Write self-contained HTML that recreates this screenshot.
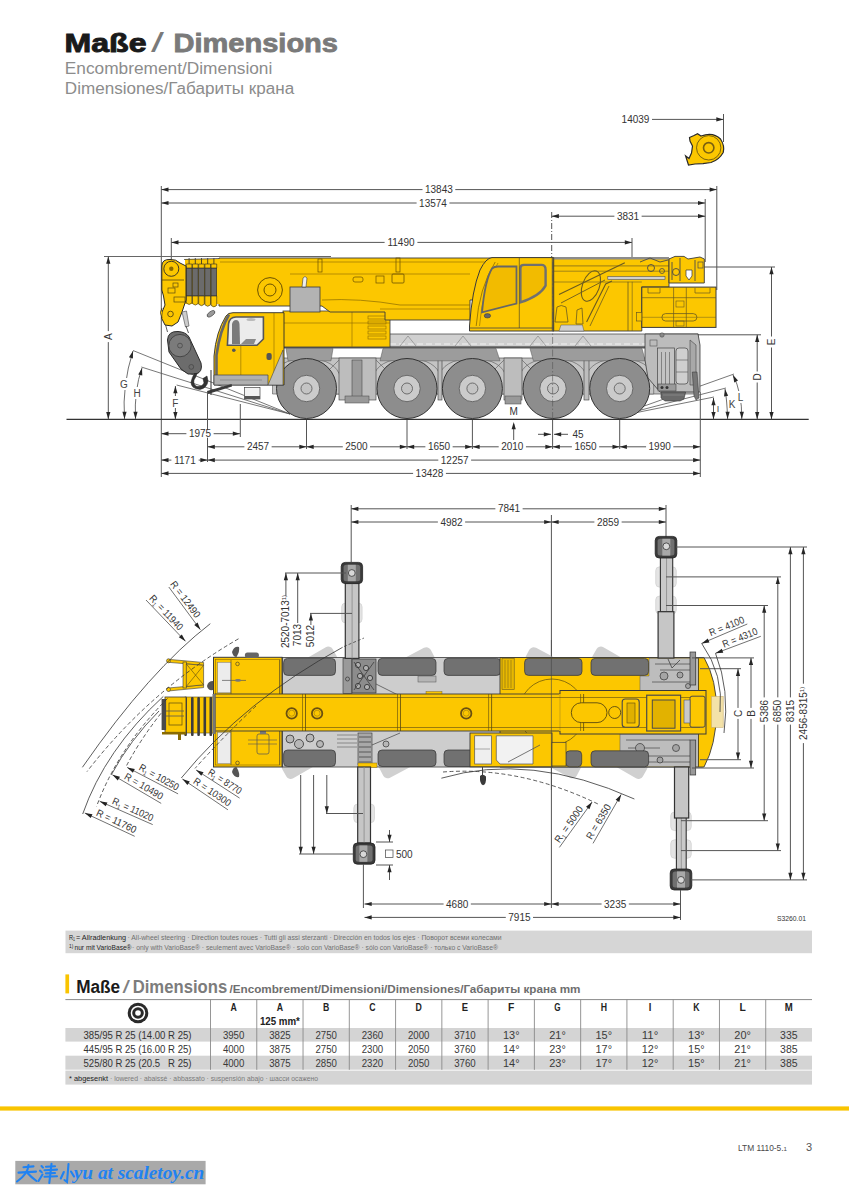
<!DOCTYPE html>
<html><head><meta charset="utf-8"><title>Dimensions</title>
<style>
html,body{margin:0;padding:0;background:#fff;}
svg{display:block;}
text{font-family:"Liberation Sans",sans-serif;}
</style></head><body>
<svg width="849" height="1200" viewBox="0 0 849 1200">
<rect width="849" height="1200" fill="#fff"/>
<text x="64.5" y="52" font-size="25.5" font-weight="bold" fill="#1a1a1a" stroke="#1a1a1a" stroke-width="0.9" textLength="82" lengthAdjust="spacingAndGlyphs">Maße</text>
<text x="151" y="52" font-size="27" fill="#7a7a7a" textLength="13" lengthAdjust="spacingAndGlyphs">/</text>
<text x="173.5" y="52" font-size="25.5" font-weight="bold" fill="#7a7a7a" stroke="#7a7a7a" stroke-width="0.8" textLength="164.5" lengthAdjust="spacingAndGlyphs">Dimensions</text>
<text x="64.8" y="73.8" font-size="15.6" fill="#8c8c8c" textLength="207.5" lengthAdjust="spacingAndGlyphs">Encombrement/Dimensioni</text>
<text x="64.8" y="94.2" font-size="15.6" fill="#8c8c8c" textLength="229.5" lengthAdjust="spacingAndGlyphs">Dimensiones/Габариты крана</text>
<line x1="161.3" y1="186" x2="161.3" y2="477" stroke="#555" stroke-width="1"/>
<line x1="171.3" y1="238" x2="171.3" y2="262" stroke="#555" stroke-width="1"/>
<line x1="705.2" y1="199" x2="705.2" y2="262" stroke="#555" stroke-width="1"/>
<line x1="716.8" y1="186" x2="716.8" y2="290" stroke="#555" stroke-width="1"/>
<line x1="632" y1="238" x2="632" y2="258" stroke="#555" stroke-width="1"/>
<line x1="551.7" y1="212" x2="551.7" y2="262" stroke="#555" stroke-width="1" stroke-dasharray="6,2,1,2"/>
<line x1="161.3" y1="189.6" x2="716.8" y2="189.6" stroke="#555" stroke-width="1"/><path d="M161.30,189.60L168.50,187.50L168.50,191.70Z" fill="#262626"/><path d="M716.80,189.60L709.60,191.70L709.60,187.50Z" fill="#262626"/><rect x="422.50" y="185.6" width="32.80" height="8" fill="#fff"/><text x="438.9" y="193.2" font-size="10" text-anchor="middle" fill="#333">13843</text>
<line x1="161.3" y1="203.0" x2="705.2" y2="203.0" stroke="#555" stroke-width="1"/><path d="M161.30,203.00L168.50,200.90L168.50,205.10Z" fill="#262626"/><path d="M705.20,203.00L698.00,205.10L698.00,200.90Z" fill="#262626"/><rect x="416.60" y="199.0" width="32.80" height="8" fill="#fff"/><text x="433.0" y="206.6" font-size="10" text-anchor="middle" fill="#333">13574</text>
<line x1="551.7" y1="216.2" x2="705.2" y2="216.2" stroke="#555" stroke-width="1"/><path d="M551.70,216.20L558.90,214.10L558.90,218.30Z" fill="#262626"/><path d="M705.20,216.20L698.00,218.30L698.00,214.10Z" fill="#262626"/><rect x="614.38" y="212.2" width="27.24" height="8" fill="#fff"/><text x="628.0" y="219.79999999999998" font-size="10" text-anchor="middle" fill="#333">3831</text>
<line x1="171.3" y1="242.4" x2="632.0" y2="242.4" stroke="#555" stroke-width="1"/><path d="M171.30,242.40L178.50,240.30L178.50,244.50Z" fill="#262626"/><path d="M632.00,242.40L624.80,244.50L624.80,240.30Z" fill="#262626"/><rect x="384.60" y="238.4" width="32.80" height="8" fill="#fff"/><text x="401.0" y="246.0" font-size="10" text-anchor="middle" fill="#333">11490</text>
<line x1="723.5" y1="114" x2="723.5" y2="142" stroke="#555" stroke-width="1"/>
<line x1="652" y1="119.4" x2="723.5" y2="119.4" stroke="#555" stroke-width="1"/><path d="M723.50,119.40L716.30,121.50L716.30,117.30Z" fill="#262626"/>
<text x="635.5" y="123" font-size="10" text-anchor="middle" fill="#333">14039</text>
<path d="M689.5,137.5 L694,135.5 L697.5,133.8 L701,136 Q713,131.5 720.5,139 Q725,146 723.2,152.5 Q719,160 711,162.5 L703,163.6 L695,164 L688.5,165 L685.6,156 L689,158.6 L691.5,153 L692.5,146 L690,141 Z" fill="#fcc700" stroke="#2a2a2a" stroke-width="1.2"/>
<circle cx="708.7" cy="147.8" r="12.2" fill="#fcc700" stroke="#5a4a10" stroke-width="0.8"/>
<circle cx="708.7" cy="147.8" r="5.2" fill="#fcc700" stroke="#7a6010" stroke-width="1.6"/>
<line x1="104" y1="256.5" x2="331" y2="256.5" stroke="#666" stroke-width="1"/>
<line x1="704" y1="267" x2="775" y2="267" stroke="#555" stroke-width="1"/>
<line x1="691" y1="334.8" x2="761" y2="334.8" stroke="#555" stroke-width="1"/>
<line x1="66.5" y1="419.4" x2="808.7" y2="419.4" stroke="#333" stroke-width="1.4"/>
<line x1="133" y1="350.5" x2="290" y2="414" stroke="#555" stroke-width="0.8"/>
<line x1="141.3" y1="367" x2="290" y2="414" stroke="#555" stroke-width="0.8"/>
<line x1="176.6" y1="385" x2="290" y2="414" stroke="#555" stroke-width="0.8"/>
<line x1="612" y1="417.5" x2="734" y2="374" stroke="#555" stroke-width="0.8"/>
<line x1="612" y1="417.5" x2="726" y2="388" stroke="#555" stroke-width="0.8"/>
<line x1="612" y1="417.5" x2="714" y2="397" stroke="#555" stroke-width="0.8"/>
<path d="M283,358 L698,358 L698,394 L283,394 Z" fill="#c4c4c4" stroke="#3a3a3a" stroke-width="0.6"/>
<path d="M272.5,394 L272.5,378 Q276.5,359 306.5,358.5 Q336.5,359 340.5,378 L340.5,394 Z" fill="#c6c6c6" stroke="#555" stroke-width="0.6"/>
<path d="M373.0,394 L373.0,378 Q377.0,359 407.0,358.5 Q437.0,359 441.0,378 L441.0,394 Z" fill="#c6c6c6" stroke="#555" stroke-width="0.6"/>
<path d="M438.4,394 L438.4,378 Q442.4,359 472.4,358.5 Q502.4,359 506.4,378 L506.4,394 Z" fill="#c6c6c6" stroke="#555" stroke-width="0.6"/>
<path d="M519.0,394 L519.0,378 Q523.0,359 553.0,358.5 Q583.0,359 587.0,378 L587.0,394 Z" fill="#c6c6c6" stroke="#555" stroke-width="0.6"/>
<path d="M585.7,394 L585.7,378 Q589.7,359 619.7,358.5 Q649.7,359 653.7,378 L653.7,394 Z" fill="#c6c6c6" stroke="#555" stroke-width="0.6"/>
<rect x="339" y="358" width="37" height="42" fill="#bdbdbd" stroke="#3a3a3a" stroke-width="0.6"/>
<rect x="438" y="358" width="4" height="42" fill="#bdbdbd" stroke="#3a3a3a" stroke-width="0.6"/>
<rect x="504" y="358" width="18" height="42" fill="#bdbdbd" stroke="#3a3a3a" stroke-width="0.6"/>
<rect x="584" y="358" width="5" height="42" fill="#bdbdbd" stroke="#3a3a3a" stroke-width="0.6"/>
<rect x="352" y="360" width="10" height="40" fill="#9a9a9a" stroke="#3a3a3a" stroke-width="0.5"/>
<path d="M376,360 L388,372 M339,360 L327,372 M522,360 L532,370 M504,360 L494,370" stroke="#666" stroke-width="0.7"/>
<rect x="283" y="334" width="415" height="13" fill="#d0d0d0" stroke="#3a3a3a" stroke-width="0.7"/>
<line x1="390" y1="344" x2="650" y2="344" stroke="#f2f2f2" stroke-width="1" stroke-dasharray="6,3"/>
<path d="M400,346 L408,336 L416,346" fill="none" stroke="#888" stroke-width="0.7"/>
<path d="M455,346 L463,336 L471,346" fill="none" stroke="#888" stroke-width="0.7"/>
<path d="M530,346 L538,336 L546,346" fill="none" stroke="#888" stroke-width="0.7"/>
<path d="M575,346 L583,336 L591,346" fill="none" stroke="#888" stroke-width="0.7"/>
<rect x="283" y="346.5" width="415" height="2" fill="#5a5a5a"/>
<path d="M286,348.5 L333,348.5 L331,360.8 L288,360.8 Z" fill="#9c9c9c" stroke="#555" stroke-width="0.5"/>
<path d="M383,348.5 L496,348.5 L500,360.8 L380,360.8 Z" fill="#9c9c9c" stroke="#555" stroke-width="0.5"/>
<path d="M530,348.5 L642,348.5 L645.3,360.8 L533.4,360.8 Z" fill="#9c9c9c" stroke="#555" stroke-width="0.5"/>
<path d="M645,334 L698,334 L700,345 L700,392 L660,392 L648,378 L645,360 Z" fill="#bcbcbc" stroke="#3a3a3a" stroke-width="0.8"/>
<rect x="657.6" y="348" width="16.8" height="40.8" fill="#c3c3c3" stroke="#444" stroke-width="0.7"/>
<line x1="661.5" y1="352" x2="661.5" y2="385" stroke="#555" stroke-width="0.6"/>
<line x1="665.5" y1="352" x2="665.5" y2="385" stroke="#555" stroke-width="0.6"/>
<line x1="669.5" y1="352" x2="669.5" y2="385" stroke="#555" stroke-width="0.6"/>
<rect x="676" y="348" width="12" height="36" rx="3" fill="#cfcfcf" stroke="#444" stroke-width="0.7"/>
<line x1="676" y1="360" x2="688" y2="360" stroke="#555" stroke-width="0.6"/>
<line x1="676" y1="372" x2="688" y2="372" stroke="#555" stroke-width="0.6"/>
<path d="M690,340 L696,345 L696,385 L690,385 Z" fill="#a8a8a8" stroke="#444" stroke-width="0.6"/>
<rect x="658" y="384" width="18" height="7" fill="#9a9a9a" stroke="#444" stroke-width="0.6"/>
<circle cx="662" cy="387.5" r="1.5" fill="#333"/><circle cx="667" cy="387.5" r="1.5" fill="#333"/>
<rect x="650" y="340" width="7" height="6" fill="none" stroke="#555" stroke-width="0.6"/>
<circle cx="662" cy="335" r="2.2" fill="#888" stroke="#444" stroke-width="0.5"/>
<path d="M661,392 L685.6,392 L684,399 L680,401 L665,401 L661,398 Z" fill="#6a6a6a" stroke="#3a3a3a" stroke-width="0.6"/>
<line x1="663" y1="395" x2="684" y2="395" stroke="#999" stroke-width="0.6"/>
<path d="M692.3,372 L697,372 L699,398 L696,400 L694,396 Z" fill="#777" stroke="#333" stroke-width="0.5"/>
<rect x="283" y="386" width="14" height="12" fill="#aaa" stroke="#3a3a3a" stroke-width="0.6"/>
<circle cx="306.5" cy="388.5" r="30" fill="#8d8d8d" stroke="#333" stroke-width="1"/>
<circle cx="306.5" cy="388.5" r="13.2" fill="#cbcbcb" stroke="#555" stroke-width="0.8"/>
<circle cx="306.5" cy="388.5" r="5.5" fill="#c4c4c4" stroke="#555" stroke-width="0.8"/>
<circle cx="407.0" cy="388.5" r="30" fill="#8d8d8d" stroke="#333" stroke-width="1"/>
<circle cx="407.0" cy="388.5" r="13.2" fill="#cbcbcb" stroke="#555" stroke-width="0.8"/>
<circle cx="407.0" cy="388.5" r="5.5" fill="#c4c4c4" stroke="#555" stroke-width="0.8"/>
<circle cx="472.4" cy="388.5" r="30" fill="#8d8d8d" stroke="#333" stroke-width="1"/>
<circle cx="472.4" cy="388.5" r="13.2" fill="#cbcbcb" stroke="#555" stroke-width="0.8"/>
<circle cx="472.4" cy="388.5" r="5.5" fill="#c4c4c4" stroke="#555" stroke-width="0.8"/>
<circle cx="553.0" cy="388.5" r="30" fill="#8d8d8d" stroke="#333" stroke-width="1"/>
<circle cx="553.0" cy="388.5" r="13.2" fill="#cbcbcb" stroke="#555" stroke-width="0.8"/>
<circle cx="553.0" cy="388.5" r="5.5" fill="#c4c4c4" stroke="#555" stroke-width="0.8"/>
<circle cx="619.7" cy="388.5" r="30" fill="#8d8d8d" stroke="#333" stroke-width="1"/>
<circle cx="619.7" cy="388.5" r="13.2" fill="#cbcbcb" stroke="#555" stroke-width="0.8"/>
<circle cx="619.7" cy="388.5" r="5.5" fill="#c4c4c4" stroke="#555" stroke-width="0.8"/>
<rect x="505" y="396" width="16" height="8" fill="#999" stroke="#444" stroke-width="0.5"/>
<rect x="345" y="396" width="24" height="7" fill="#999" stroke="#444" stroke-width="0.5"/>
<rect x="283" y="311" width="107" height="36" fill="#fcc700" stroke="#3a3a3a" stroke-width="0.8"/>
<line x1="283" y1="323" x2="390" y2="323" stroke="#8a6a00" stroke-width="0.6"/>
<line x1="352" y1="311" x2="352" y2="347" stroke="#8a6a00" stroke-width="0.6"/>
<rect x="368" y="316" width="18" height="3" fill="none" stroke="#8a6a00" stroke-width="0.6"/>
<rect x="368" y="321" width="18" height="3" fill="none" stroke="#8a6a00" stroke-width="0.6"/>
<rect x="368" y="326" width="18" height="3" fill="none" stroke="#8a6a00" stroke-width="0.6"/>
<rect x="368" y="331" width="18" height="3" fill="none" stroke="#8a6a00" stroke-width="0.6"/>
<rect x="368" y="336" width="18" height="3" fill="none" stroke="#8a6a00" stroke-width="0.6"/>
<path d="M219,258 L640,258 L640,300 L470,300 L470,320 L385,320 L385,312 L330,312 L322,306 L219,306 Z" fill="#fcc700" stroke="#3a3a3a" stroke-width="0.9"/>
<line x1="219" y1="262" x2="640" y2="262" stroke="#8a6a00" stroke-width="0.6"/>
<line x1="290" y1="274" x2="470" y2="274" stroke="#8a6a00" stroke-width="0.6"/>
<path d="M322,300 Q360,298 400,305 L470,305" fill="none" stroke="#8a6a00" stroke-width="0.7"/>
<line x1="380" y1="309" x2="470" y2="309" stroke="#8a6a00" stroke-width="0.6"/>
<circle cx="270" cy="290" r="12.4" fill="#fcc700" stroke="#6a5000" stroke-width="1"/>
<circle cx="270" cy="290" r="6" fill="#fcc700" stroke="#6a5000" stroke-width="1"/>
<rect x="353" y="277" width="10" height="5" rx="2" fill="none" stroke="#6a5000" stroke-width="0.7"/>
<rect x="376" y="276" width="8" height="7" fill="none" stroke="#6a5000" stroke-width="0.7"/>
<rect x="392" y="274" width="12" height="9" rx="1" fill="none" stroke="#6a5000" stroke-width="0.8"/>
<rect x="318" y="259" width="4" height="13" fill="none" stroke="#6a5000" stroke-width="0.7"/>
<rect x="396" y="258" width="4" height="14" fill="none" stroke="#6a5000" stroke-width="0.7"/>
<rect x="185" y="259" width="35" height="45" fill="#fcc700"/>
<rect x="186.3" y="268" width="5.6" height="28" fill="#6b6b6b" stroke="#2a2a2a" stroke-width="0.6"/>
<path d="M186.3,264 L191.9,264 L191.9,268 L186.3,268 Z" fill="#fcc700" stroke="#2a2a2a" stroke-width="0.6"/>
<path d="M186.3,296 L191.9,296 L191.9,303.0 Q189.10000000000002,306.0 186.3,303.0 Z" fill="#fcc700" stroke="#2a2a2a" stroke-width="0.6"/>
<line x1="189.10000000000002" y1="258" x2="189.10000000000002" y2="264" stroke="#2a2a2a" stroke-width="0.8"/>
<rect x="192.5" y="268" width="5.6" height="28" fill="#6b6b6b" stroke="#2a2a2a" stroke-width="0.6"/>
<path d="M192.5,264 L198.1,264 L198.1,268 L192.5,268 Z" fill="#fcc700" stroke="#2a2a2a" stroke-width="0.6"/>
<path d="M192.5,296 L198.1,296 L198.1,303.6 Q195.3,306.6 192.5,303.6 Z" fill="#fcc700" stroke="#2a2a2a" stroke-width="0.6"/>
<line x1="195.3" y1="258" x2="195.3" y2="264" stroke="#2a2a2a" stroke-width="0.8"/>
<rect x="198.7" y="268" width="5.6" height="28" fill="#6b6b6b" stroke="#2a2a2a" stroke-width="0.6"/>
<path d="M198.7,264 L204.29999999999998,264 L204.29999999999998,268 L198.7,268 Z" fill="#fcc700" stroke="#2a2a2a" stroke-width="0.6"/>
<path d="M198.7,296 L204.29999999999998,296 L204.29999999999998,304.2 Q201.5,307.2 198.7,304.2 Z" fill="#fcc700" stroke="#2a2a2a" stroke-width="0.6"/>
<line x1="201.5" y1="258" x2="201.5" y2="264" stroke="#2a2a2a" stroke-width="0.8"/>
<rect x="204.9" y="268" width="5.6" height="28" fill="#6b6b6b" stroke="#2a2a2a" stroke-width="0.6"/>
<path d="M204.9,264 L210.5,264 L210.5,268 L204.9,268 Z" fill="#fcc700" stroke="#2a2a2a" stroke-width="0.6"/>
<path d="M204.9,296 L210.5,296 L210.5,304.8 Q207.70000000000002,307.8 204.9,304.8 Z" fill="#fcc700" stroke="#2a2a2a" stroke-width="0.6"/>
<line x1="207.70000000000002" y1="258" x2="207.70000000000002" y2="264" stroke="#2a2a2a" stroke-width="0.8"/>
<rect x="211.1" y="268" width="5.6" height="28" fill="#6b6b6b" stroke="#2a2a2a" stroke-width="0.6"/>
<path d="M211.1,264 L216.7,264 L216.7,268 L211.1,268 Z" fill="#fcc700" stroke="#2a2a2a" stroke-width="0.6"/>
<path d="M211.1,296 L216.7,296 L216.7,305.4 Q213.9,308.4 211.1,305.4 Z" fill="#fcc700" stroke="#2a2a2a" stroke-width="0.6"/>
<line x1="213.9" y1="258" x2="213.9" y2="264" stroke="#2a2a2a" stroke-width="0.8"/>
<line x1="184" y1="259.5" x2="219" y2="258.5" stroke="#444" stroke-width="0.8"/>
<path d="M161.8,266 Q162,259 170,259.5 Q176,259 180,263 L186,266 L186,300 L182,312 L178,322 L172,326 L165,325 L161.5,318 L162,312 L165,305 L163.5,296 L161.8,290 Z" fill="#fcc700" stroke="#2a2a2a" stroke-width="1"/>
<circle cx="171.3" cy="268.8" r="7.5" fill="#fcc700" stroke="#2a2a2a" stroke-width="0.9"/>
<circle cx="171.3" cy="268.8" r="2.2" fill="#8a6a00"/>
<line x1="162" y1="280" x2="184" y2="280" stroke="#5a4a10" stroke-width="0.8"/>
<rect x="173" y="283" width="5" height="4" fill="none" stroke="#5a4a10" stroke-width="0.7"/>
<rect x="168" y="288" width="7" height="5" fill="none" stroke="#5a4a10" stroke-width="0.7"/>
<rect x="174" y="297" width="11" height="5" fill="none" stroke="#5a4a10" stroke-width="0.7"/>
<circle cx="170.5" cy="314" r="2.8" fill="none" stroke="#5a4a10" stroke-width="0.9"/>
<path d="M162,308 Q159,312 162,318" fill="#fcc700" stroke="#2a2a2a" stroke-width="0.8"/>
<line x1="165.6" y1="325" x2="167.5" y2="332" stroke="#333" stroke-width="0.8"/>
<path d="M182,312 L186.5,311 L189,326 L185.5,327 Z" fill="#ccc" stroke="#444" stroke-width="0.6"/>
<line x1="186" y1="326" x2="188.5" y2="333" stroke="#333" stroke-width="0.8"/>
<ellipse cx="211" cy="313.8" rx="4.5" ry="2.2" transform="rotate(-35,211,313.8)" fill="#9a9a9a" stroke="#333" stroke-width="0.6"/>
<path d="M167.5,340 Q168,331 178,331.5 Q186,332 189,337 L195,350 L201,363 Q203,372 196,374 L188,374 Q180,370 176,362 L169,352 Z" fill="#6c6c6c" stroke="#2a2a2a" stroke-width="1"/>
<circle cx="180" cy="345.6" r="11.2" fill="#7b7b7b" stroke="#3a3a3a" stroke-width="0.8"/>
<circle cx="180" cy="345.6" r="2.4" fill="none" stroke="#444" stroke-width="0.7"/>
<circle cx="191.3" cy="366.9" r="2.4" fill="none" stroke="#444" stroke-width="0.7"/>
<path d="M194.5,373.5 L197,373.5 Q196,377 194,380 Q193,385 197,386.5 Q202,387 204,383 L203,378.5 L207,376 L208,381 Q207,388 200,389.5 Q191,389 191,382 Q192,377 194.5,373.5 Z" fill="#333" stroke="#1a1a1a" stroke-width="0.5"/>
<rect x="290" y="287" width="30" height="25" fill="#b3b3b3" stroke="#3a3a3a" stroke-width="0.8"/>
<path d="M302,287 L303,278 Q305,275 307,278 L306,287 Z" fill="#eee" stroke="#3a3a3a" stroke-width="0.6"/>
<path d="M214,385 L214,356 Q216,332 226,316 Q228,312.7 233,312.7 L284,312.7 L284,385 Z" fill="#fcc700" stroke="#2a2a2a" stroke-width="0.9"/>
<path d="M229,314.5 Q220,330 216.5,355 L216.5,376" fill="none" stroke="#666" stroke-width="2.6"/>
<path d="M227.4,345.2 L228.5,324 Q229.5,317 236,317 L263.4,317 L263.4,339 L257,345.2 Z" fill="#ececec" stroke="#555" stroke-width="1.6"/>
<path d="M232,344 L232,324 Q233,320 236,320 Q239,320 239.5,324 L240,344 Z" fill="#7a7a7a"/>
<path d="M241,344 L246,339 L256,339 L254,344 Z" fill="#8a8a8a"/>
<ellipse cx="251" cy="319.5" rx="4.5" ry="1.6" fill="#bbb"/>
<line x1="240.8" y1="345" x2="240.8" y2="376" stroke="#8a6a00" stroke-width="0.6"/>
<line x1="274" y1="313" x2="274" y2="376" stroke="#8a6a00" stroke-width="0.6"/>
<circle cx="233.8" cy="350.2" r="1.8" fill="#555"/>
<rect x="266.5" y="353" width="5.2" height="7" rx="2" fill="#555"/>
<path d="M214,375 L268,375 L268,385 L214,385 Z" fill="#b0b0b0" stroke="#444" stroke-width="0.7"/>
<line x1="220" y1="380" x2="262" y2="380" stroke="#777" stroke-width="0.6"/>
<path d="M268,385 L283,350 L283,385 Z" fill="#bdbdbd" stroke="#444" stroke-width="0.6"/>
<rect x="244.4" y="387.6" width="15.6" height="11.4" fill="#f2f2f2" stroke="#444" stroke-width="0.7"/>
<rect x="244.4" y="396" width="15.6" height="3" fill="#555"/>
<path d="M207,391 L231.6,384 L232,386.5 L208,394 Z" fill="#3a3a3a"/>
<line x1="211" y1="370" x2="211" y2="395" stroke="#333" stroke-width="1"/>
<path d="M553,258 L669,258 L669,287 L641.8,287 L641.8,331 L553,331 Z" fill="#fcc700" stroke="#3a3a3a" stroke-width="0.9"/>
<line x1="553" y1="265.9" x2="669" y2="265.9" stroke="#6a5a20" stroke-width="0.7"/>
<line x1="553" y1="271.2" x2="669" y2="271.2" stroke="#6a5a20" stroke-width="0.6"/>
<rect x="553" y="257" width="116" height="2.5" fill="#8c8c8c"/>
<path d="M559,294.5 L624.8,262.7" fill="none" stroke="#6a5a20" stroke-width="1.1"/>
<path d="M561,303 L605,280" fill="none" stroke="#6a5a20" stroke-width="0.9"/>
<path d="M586.6,322 L605.7,283.9 L612,281" fill="none" stroke="#6a5a20" stroke-width="1.1"/>
<path d="M590,326 L609,286" fill="none" stroke="#6a5a20" stroke-width="0.8"/>
<ellipse cx="590.9" cy="286" rx="8.5" ry="15.9" transform="rotate(20,590.9,286)" fill="none" stroke="#6a5a20" stroke-width="1.1"/>
<rect x="607.8" y="276.6" width="57.2" height="3" fill="#cfcfcf" stroke="#555" stroke-width="0.6"/>
<line x1="628" y1="281.8" x2="628" y2="331" stroke="#6a5a20" stroke-width="0.8"/>
<line x1="632.2" y1="281.8" x2="632.2" y2="331" stroke="#6a5a20" stroke-width="0.6"/>
<line x1="553" y1="282" x2="641.8" y2="282" stroke="#6a5a20" stroke-width="0.6"/>
<path d="M555,322 L557,307 Q561,304 566,307 L568,322 Z" fill="none" stroke="#6a5a20" stroke-width="0.8"/>
<path d="M576,324 L577,310 L582,308 L583,324 Z" fill="none" stroke="#6a5a20" stroke-width="0.8"/>
<path d="M561,325 L582.4,325 L584,331 L559,331 Z" fill="#cfcfcf" stroke="#555" stroke-width="0.5"/>
<path d="M469.5,331 L469.5,326 Q472,290 480,270 Q486,258 492,257.6 L553.7,257.6 L553.7,331 Z" fill="#fcc700" stroke="#3a3a3a" stroke-width="1"/>
<path d="M476.2,326 Q479,288 495.2,262" fill="none" stroke="#8a6a00" stroke-width="0.8"/>
<path d="M479.5,326 Q482,290 498,263" fill="none" stroke="#8a6a00" stroke-width="0.6"/>
<path d="M482,312.4 Q485,280 492,268.5 Q494,266.5 498,266.5 L516.5,266.5 L516.5,303.5 Z" fill="#f2bb00" stroke="#666" stroke-width="1.8"/>
<path d="M520.4,302.4 L520.4,268 Q520.4,264.9 524,264.9 L542,264.9 Q545.6,265 545.6,270 L545.6,285.6 Q540,296 520.4,302.4 Z" fill="#f2bb00" stroke="#707070" stroke-width="2.4"/>
<line x1="519.3" y1="258" x2="519.3" y2="328" stroke="#6a5a20" stroke-width="0.8"/>
<ellipse cx="487.4" cy="315.8" rx="3.2" ry="2.2" fill="#666" stroke="#333" stroke-width="0.5"/>
<line x1="469.5" y1="328" x2="553.7" y2="328" stroke="#444" stroke-width="0.8"/>
<line x1="552.3" y1="258" x2="552.3" y2="331" stroke="#444" stroke-width="0.9"/>
<rect x="641.8" y="287.1" width="74.2" height="40.3" fill="#fcc700" stroke="#3a3a3a" stroke-width="1"/>
<line x1="641.8" y1="297.7" x2="716" y2="297.7" stroke="#6a5a20" stroke-width="0.7"/>
<path d="M648,288 L648,293 L660,293 L660,288 M695,288 L695,293 L710,293 L710,288" fill="none" stroke="#6a5a20" stroke-width="0.7"/>
<line x1="673.6" y1="287.1" x2="673.6" y2="327.4" stroke="#6a5a20" stroke-width="0.7"/>
<line x1="686.3" y1="287.1" x2="686.3" y2="327.4" stroke="#6a5a20" stroke-width="0.7"/>
<rect x="661.9" y="313.6" width="35" height="7.4" rx="3.7" fill="none" stroke="#6a5a20" stroke-width="0.8"/>
<line x1="641.8" y1="317.3" x2="716" y2="317.3" stroke="#6a5a20" stroke-width="0.5"/>
<rect x="636.5" y="312.5" width="5.3" height="8.5" fill="#fcc700" stroke="#6a5a20" stroke-width="0.7"/>
<rect x="676" y="301" width="8" height="6" fill="none" stroke="#6a5a20" stroke-width="0.6"/>
<rect x="676" y="321" width="8" height="5" fill="none" stroke="#6a5a20" stroke-width="0.6"/>
<path d="M669,259 L675,256.4 L684,256.4 L688,259 L700,257 L704.3,259 L704.3,283 L669,283 Z" fill="#fcc700" stroke="#3a3a3a" stroke-width="0.9"/>
<path d="M672,262 L672,280 M680,258 L680,281 M695,260 L695,281" stroke="#4a4a4a" stroke-width="0.9"/>
<circle cx="676" cy="272" r="3.5" fill="none" stroke="#4a4a4a" stroke-width="0.9"/>
<path d="M686,270 L692,270 L692,276 L689,280 L686,276 Z" fill="#fff" stroke="#333" stroke-width="0.7"/>
<rect x="698" y="262" width="5" height="6" fill="none" stroke="#4a4a4a" stroke-width="0.7"/>
<path d="M640,262 L650,258 L660,262 L668,260" fill="none" stroke="#4a4a4a" stroke-width="0.9"/>
<circle cx="651" cy="268" r="3.5" fill="none" stroke="#4a4a4a" stroke-width="0.9"/>
<circle cx="662" cy="271" r="2.5" fill="none" stroke="#4a4a4a" stroke-width="0.8"/>
<line x1="552.6" y1="262" x2="552.6" y2="420" stroke="#555" stroke-width="0.6" stroke-dasharray="7,2,1.5,2"/>
<line x1="207.5" y1="391.5" x2="207.5" y2="462" stroke="#555" stroke-width="1"/>
<line x1="240.3" y1="404" x2="240.3" y2="437" stroke="#555" stroke-width="1"/>
<line x1="306.5" y1="420" x2="306.5" y2="449" stroke="#555" stroke-width="1"/>
<line x1="407" y1="420" x2="407" y2="449" stroke="#555" stroke-width="1"/>
<line x1="472.4" y1="420" x2="472.4" y2="449" stroke="#555" stroke-width="1"/>
<line x1="552.6" y1="420" x2="552.6" y2="449" stroke="#555" stroke-width="1"/>
<line x1="619.7" y1="420" x2="619.7" y2="449" stroke="#555" stroke-width="1"/>
<line x1="700.3" y1="392" x2="700.3" y2="477" stroke="#555" stroke-width="1"/>
<line x1="161.3" y1="433.7" x2="240" y2="433.7" stroke="#555" stroke-width="1"/><path d="M161.30,433.70L168.50,431.60L168.50,435.80Z" fill="#262626"/><path d="M240.00,433.70L232.80,435.80L232.80,431.60Z" fill="#262626"/><rect x="186.38" y="429.7" width="27.24" height="8" fill="#fff"/><text x="200.0" y="437.3" font-size="10" text-anchor="middle" fill="#333">1975</text>
<line x1="207.6" y1="446.8" x2="306.5" y2="446.8" stroke="#555" stroke-width="1"/><path d="M207.60,446.80L214.80,444.70L214.80,448.90Z" fill="#262626"/><path d="M306.50,446.80L299.30,448.90L299.30,444.70Z" fill="#262626"/><rect x="244.38" y="442.8" width="27.24" height="8" fill="#fff"/><text x="258.0" y="450.40000000000003" font-size="10" text-anchor="middle" fill="#333">2457</text>
<line x1="306.5" y1="446.8" x2="407" y2="446.8" stroke="#555" stroke-width="1"/><path d="M306.50,446.80L313.70,444.70L313.70,448.90Z" fill="#262626"/><path d="M407.00,446.80L399.80,448.90L399.80,444.70Z" fill="#262626"/><rect x="342.78" y="442.8" width="27.24" height="8" fill="#fff"/><text x="356.4" y="450.40000000000003" font-size="10" text-anchor="middle" fill="#333">2500</text>
<line x1="407" y1="446.8" x2="472.4" y2="446.8" stroke="#555" stroke-width="1"/><path d="M407.00,446.80L414.20,444.70L414.20,448.90Z" fill="#262626"/><path d="M472.40,446.80L465.20,448.90L465.20,444.70Z" fill="#262626"/><rect x="425.38" y="442.8" width="27.24" height="8" fill="#fff"/><text x="439.0" y="450.40000000000003" font-size="10" text-anchor="middle" fill="#333">1650</text>
<line x1="472.4" y1="446.8" x2="552.6" y2="446.8" stroke="#555" stroke-width="1"/><path d="M472.40,446.80L479.60,444.70L479.60,448.90Z" fill="#262626"/><path d="M552.60,446.80L545.40,448.90L545.40,444.70Z" fill="#262626"/><rect x="498.68" y="442.8" width="27.24" height="8" fill="#fff"/><text x="512.3" y="450.40000000000003" font-size="10" text-anchor="middle" fill="#333">2010</text>
<line x1="552.6" y1="446.8" x2="619.7" y2="446.8" stroke="#555" stroke-width="1"/><path d="M552.60,446.80L559.80,444.70L559.80,448.90Z" fill="#262626"/><path d="M619.70,446.80L612.50,448.90L612.50,444.70Z" fill="#262626"/><rect x="571.88" y="442.8" width="27.24" height="8" fill="#fff"/><text x="585.5" y="450.40000000000003" font-size="10" text-anchor="middle" fill="#333">1650</text>
<line x1="619.7" y1="446.8" x2="700.3" y2="446.8" stroke="#555" stroke-width="1"/><path d="M619.70,446.80L626.90,444.70L626.90,448.90Z" fill="#262626"/><path d="M700.30,446.80L693.10,448.90L693.10,444.70Z" fill="#262626"/><rect x="646.08" y="442.8" width="27.24" height="8" fill="#fff"/><text x="659.7" y="450.40000000000003" font-size="10" text-anchor="middle" fill="#333">1990</text>
<line x1="161.3" y1="460.1" x2="207.6" y2="460.1" stroke="#555" stroke-width="1"/><path d="M161.30,460.10L168.50,458.00L168.50,462.20Z" fill="#262626"/><path d="M207.60,460.10L200.40,462.20L200.40,458.00Z" fill="#262626"/><rect x="171.38" y="456.1" width="27.24" height="8" fill="#fff"/><text x="185.0" y="463.70000000000005" font-size="10" text-anchor="middle" fill="#333">1171</text>
<line x1="207.6" y1="460.1" x2="700.3" y2="460.1" stroke="#555" stroke-width="1"/><path d="M207.60,460.10L214.80,458.00L214.80,462.20Z" fill="#262626"/><path d="M700.30,460.10L693.10,462.20L693.10,458.00Z" fill="#262626"/><rect x="438.30" y="456.1" width="32.80" height="8" fill="#fff"/><text x="454.7" y="463.70000000000005" font-size="10" text-anchor="middle" fill="#333">12257</text>
<line x1="161.3" y1="473.4" x2="700.3" y2="473.4" stroke="#555" stroke-width="1"/><path d="M161.30,473.40L168.50,471.30L168.50,475.50Z" fill="#262626"/><path d="M700.30,473.40L693.10,475.50L693.10,471.30Z" fill="#262626"/><rect x="413.10" y="469.4" width="32.80" height="8" fill="#fff"/><text x="429.5" y="477.0" font-size="10" text-anchor="middle" fill="#333">13428</text>
<line x1="538" y1="434.3" x2="551" y2="434.3" stroke="#555" stroke-width="1"/>
<path d="M551.00,434.30L543.80,436.40L543.80,432.20Z" fill="#262626"/>
<line x1="554" y1="434.3" x2="568" y2="434.3" stroke="#555" stroke-width="1"/>
<path d="M554.00,434.30L561.20,432.20L561.20,436.40Z" fill="#262626"/>
<text x="578" y="438" font-size="10" text-anchor="middle" fill="#333">45</text>
<line x1="513.7" y1="424" x2="513.7" y2="440" stroke="#555" stroke-width="1"/>
<path d="M513.70,422.00L515.80,429.20L511.60,429.20Z" fill="#262626"/>
<text x="513.7" y="414.5" font-size="10" text-anchor="middle" fill="#333">M</text>
<line x1="108.3" y1="256.5" x2="108.3" y2="419.3" stroke="#555" stroke-width="1"/><path d="M108.30,256.50L110.40,263.70L106.20,263.70Z" fill="#262626"/><path d="M108.30,419.30L106.20,412.10L110.40,412.10Z" fill="#262626"/><rect x="104.3" y="331.10" width="8" height="11.00" fill="#fff"/><text transform="translate(111.89999999999999,336.6) rotate(-90)" font-size="10" text-anchor="middle" fill="#333">A</text>
<path d="M124.5,419 Q122,385 133,351" fill="none" stroke="#4a4a4a" stroke-width="0.8"/>
<path d="M133.00,351.00L132.94,358.50L128.92,357.29Z" fill="#262626"/>
<path d="M124.50,419.00L122.40,411.80L126.60,411.80Z" fill="#262626"/>
<rect x="119" y="378" width="10" height="12" fill="#fff"/>
<text x="124" y="388" font-size="10" text-anchor="middle" fill="#444">G</text>
<path d="M135.5,419 Q134,390 142,368" fill="none" stroke="#4a4a4a" stroke-width="0.8"/>
<path d="M142.00,368.00L142.29,375.49L138.22,374.48Z" fill="#262626"/>
<path d="M135.50,419.00L133.40,411.80L137.60,411.80Z" fill="#262626"/>
<rect x="132" y="387" width="10" height="12" fill="#fff"/>
<text x="137" y="397" font-size="10" text-anchor="middle" fill="#444">H</text>
<line x1="175.4" y1="386" x2="175.4" y2="419.3" stroke="#555" stroke-width="1"/><path d="M175.40,386.00L177.50,393.20L173.30,393.20Z" fill="#262626"/><path d="M175.40,419.30L173.30,412.10L177.50,412.10Z" fill="#262626"/>
<rect x="171" y="396" width="9" height="12" fill="#fff"/>
<text x="175.4" y="406.5" font-size="10" text-anchor="middle" fill="#444">F</text>
<line x1="771.5" y1="267" x2="771.5" y2="419.3" stroke="#555" stroke-width="1"/><path d="M771.50,267.00L773.60,274.20L769.40,274.20Z" fill="#262626"/><path d="M771.50,419.30L769.40,412.10L773.60,412.10Z" fill="#262626"/><rect x="767.5" y="336.50" width="8" height="11.00" fill="#fff"/><text transform="translate(775.1,342) rotate(-90)" font-size="10" text-anchor="middle" fill="#333">E</text>
<line x1="757.2" y1="334.8" x2="757.2" y2="419.3" stroke="#555" stroke-width="1"/><path d="M757.20,334.80L759.30,342.00L755.10,342.00Z" fill="#262626"/><path d="M757.20,419.30L755.10,412.10L759.30,412.10Z" fill="#262626"/><rect x="753.2" y="371.50" width="8" height="11.00" fill="#fff"/><text transform="translate(760.8000000000001,377) rotate(-90)" font-size="10" text-anchor="middle" fill="#333">D</text>
<line x1="713.5" y1="398" x2="713.5" y2="419.3" stroke="#555" stroke-width="1"/><path d="M713.50,398.00L715.60,405.20L711.40,405.20Z" fill="#262626"/><path d="M713.50,419.30L711.40,412.10L715.60,412.10Z" fill="#262626"/>
<text x="718" y="412" font-size="9" text-anchor="middle" fill="#444">I</text>
<path d="M727.6,419 Q727,400 725,389" fill="none" stroke="#4a4a4a" stroke-width="0.8"/>
<path d="M725.00,389.00L728.15,395.81L724.00,396.43Z" fill="#262626"/>
<path d="M727.60,419.00L725.50,411.80L729.70,411.80Z" fill="#262626"/>
<rect x="728" y="398" width="8" height="11" fill="#fff"/>
<text x="732" y="408" font-size="10" text-anchor="middle" fill="#444">K</text>
<path d="M741.8,419 Q742,392 733,375" fill="none" stroke="#4a4a4a" stroke-width="0.8"/>
<path d="M733.00,375.00L738.02,380.57L734.24,382.40Z" fill="#262626"/>
<path d="M741.80,419.00L739.70,411.80L743.90,411.80Z" fill="#262626"/>
<rect x="736" y="391" width="9" height="12" fill="#fff"/>
<text x="740.5" y="401" font-size="10" text-anchor="middle" fill="#444">L</text>
<line x1="351.2" y1="505" x2="351.2" y2="562" stroke="#555" stroke-width="1"/>
<line x1="666" y1="505" x2="666" y2="537" stroke="#555" stroke-width="1"/>
<line x1="551.4" y1="515" x2="551.4" y2="908" stroke="#555" stroke-width="1"/>
<line x1="351.2" y1="508.8" x2="666" y2="508.8" stroke="#555" stroke-width="1"/><path d="M351.20,508.80L358.40,506.70L358.40,510.90Z" fill="#262626"/><path d="M666.00,508.80L658.80,510.90L658.80,506.70Z" fill="#262626"/><rect x="495.38" y="504.8" width="27.24" height="8" fill="#fff"/><text x="509" y="512.4" font-size="10" text-anchor="middle" fill="#333">7841</text>
<line x1="351.2" y1="522.0" x2="551.4" y2="522.0" stroke="#555" stroke-width="1"/><path d="M351.20,522.00L358.40,519.90L358.40,524.10Z" fill="#262626"/><path d="M551.40,522.00L544.20,524.10L544.20,519.90Z" fill="#262626"/><rect x="437.88" y="518.0" width="27.24" height="8" fill="#fff"/><text x="451.5" y="525.6" font-size="10" text-anchor="middle" fill="#333">4982</text>
<line x1="551.4" y1="522.0" x2="666" y2="522.0" stroke="#555" stroke-width="1"/><path d="M551.40,522.00L558.60,519.90L558.60,524.10Z" fill="#262626"/><path d="M666.00,522.00L658.80,524.10L658.80,519.90Z" fill="#262626"/><rect x="594.38" y="518.0" width="27.24" height="8" fill="#fff"/><text x="608" y="525.6" font-size="10" text-anchor="middle" fill="#333">2859</text>
<rect x="280.5" y="658" width="58" height="18" rx="5" fill="#d0d0d0" transform="rotate(-30,309.5,667)"/>
<rect x="378" y="658" width="58" height="18" rx="5" fill="#d0d0d0" transform="rotate(-28,407,667)"/>
<rect x="524" y="658" width="58" height="18" rx="5" fill="#d0d0d0" transform="rotate(28,553,667)"/>
<rect x="590.7" y="658" width="58" height="18" rx="5" fill="#d0d0d0" transform="rotate(30,619.7,667)"/>
<rect x="280.5" y="749.5" width="58" height="18" rx="5" fill="#d0d0d0" transform="rotate(-30,309.5,758.5)"/>
<rect x="378" y="749.5" width="58" height="18" rx="5" fill="#d0d0d0" transform="rotate(-28,407,758.5)"/>
<rect x="524" y="749.5" width="58" height="18" rx="5" fill="#d0d0d0" transform="rotate(28,553,758.5)"/>
<rect x="590.7" y="749.5" width="58" height="18" rx="5" fill="#d0d0d0" transform="rotate(30,619.7,758.5)"/>
<rect x="282.5" y="657.5" width="420" height="109.5" fill="#cdcdcd" stroke="#3a3a3a" stroke-width="0.8"/>
<rect x="283.6" y="658.4" width="51.89999999999998" height="17" rx="4" fill="#717171" stroke="#333" stroke-width="0.7"/>
<rect x="283.6" y="750" width="51.89999999999998" height="16.5" rx="4" fill="#717171" stroke="#333" stroke-width="0.7"/>
<rect x="378" y="658.4" width="58" height="17" rx="4" fill="#717171" stroke="#333" stroke-width="0.7"/>
<rect x="378" y="750" width="58" height="16.5" rx="4" fill="#717171" stroke="#333" stroke-width="0.7"/>
<rect x="444" y="658.4" width="56.69999999999999" height="17" rx="4" fill="#717171" stroke="#333" stroke-width="0.7"/>
<rect x="444" y="750" width="56.69999999999999" height="16.5" rx="4" fill="#717171" stroke="#333" stroke-width="0.7"/>
<rect x="523.6" y="658.4" width="58.39999999999998" height="17" rx="4" fill="#717171" stroke="#333" stroke-width="0.7"/>
<rect x="523.6" y="750" width="58.39999999999998" height="16.5" rx="4" fill="#717171" stroke="#333" stroke-width="0.7"/>
<rect x="590.8" y="658.4" width="56.5" height="17" rx="4" fill="#717171" stroke="#333" stroke-width="0.7"/>
<rect x="590.8" y="750" width="56.5" height="16.5" rx="4" fill="#717171" stroke="#333" stroke-width="0.7"/>
<rect x="343" y="658.5" width="9" height="35" fill="#9a9a9a" stroke="#333" stroke-width="0.6"/>
<circle cx="347.5" cy="679" r="2" fill="none" stroke="#333" stroke-width="0.7"/>
<rect x="352" y="659" width="24" height="34" fill="#8c8c8c" stroke="#333" stroke-width="0.7"/>
<circle cx="358" cy="665" r="2.6" fill="#b0b0b0" stroke="#2a2a2a" stroke-width="0.8"/>
<circle cx="366" cy="668" r="2.6" fill="#b0b0b0" stroke="#2a2a2a" stroke-width="0.8"/>
<circle cx="360" cy="676" r="2.6" fill="#b0b0b0" stroke="#2a2a2a" stroke-width="0.8"/>
<circle cx="370" cy="678" r="2.6" fill="#b0b0b0" stroke="#2a2a2a" stroke-width="0.8"/>
<circle cx="358" cy="686" r="2.6" fill="#b0b0b0" stroke="#2a2a2a" stroke-width="0.8"/>
<circle cx="367" cy="687" r="2.6" fill="#b0b0b0" stroke="#2a2a2a" stroke-width="0.8"/>
<path d="M354,662 L374,690 M374,662 L354,690" stroke="#333" stroke-width="0.7"/>
<line x1="376" y1="684" x2="398" y2="695" stroke="#444" stroke-width="0.7"/>
<rect x="418" y="676" width="18" height="6" fill="#b5b5b5" stroke="#555" stroke-width="0.5"/>
<rect x="426" y="691.5" width="16" height="3" fill="#fcc700" stroke="#6a5a20" stroke-width="0.4"/>
<circle cx="290" cy="739" r="4" fill="#b8b8b8" stroke="#333" stroke-width="0.8"/>
<circle cx="299" cy="744" r="4.5" fill="#b8b8b8" stroke="#333" stroke-width="0.8"/>
<circle cx="310" cy="738" r="4" fill="#b8b8b8" stroke="#333" stroke-width="0.8"/>
<circle cx="320" cy="744" r="3.5" fill="#b8b8b8" stroke="#333" stroke-width="0.8"/>
<line x1="337" y1="735" x2="357" y2="735" stroke="#777" stroke-width="0.8"/>
<line x1="337" y1="739" x2="357" y2="739" stroke="#777" stroke-width="0.8"/>
<line x1="337" y1="743" x2="357" y2="743" stroke="#777" stroke-width="0.8"/>
<line x1="337" y1="747" x2="357" y2="747" stroke="#777" stroke-width="0.8"/>
<rect x="358" y="733" width="14" height="32" fill="#a8a8a8" stroke="#333" stroke-width="0.6"/>
<line x1="359" y1="737" x2="371" y2="737" stroke="#444" stroke-width="0.8"/>
<line x1="359" y1="742" x2="371" y2="742" stroke="#444" stroke-width="0.8"/>
<line x1="359" y1="747" x2="371" y2="747" stroke="#444" stroke-width="0.8"/>
<line x1="359" y1="752" x2="371" y2="752" stroke="#444" stroke-width="0.8"/>
<line x1="359" y1="757" x2="371" y2="757" stroke="#444" stroke-width="0.8"/>
<line x1="359" y1="762" x2="371" y2="762" stroke="#444" stroke-width="0.8"/>
<rect x="358" y="763" width="19" height="4.5" fill="#fcc700" stroke="#6a5a20" stroke-width="0.4"/>
<line x1="372" y1="745" x2="400" y2="733" stroke="#444" stroke-width="0.7"/>
<circle cx="386" cy="744" r="3" fill="#b8b8b8" stroke="#333" stroke-width="0.7"/>
<path d="M500,657.5 L704,657.5 Q717,680 716.5,712 Q716,745 704,767 L500,767 Z" fill="#fcc700" stroke="#3a3a3a" stroke-width="0.9"/>
<path d="M649,658.3 L698.5,658.3 L698.5,690.5 L640,690.5 L640,676 L649,676 Z" fill="#bdbdbd" stroke="#555" stroke-width="0.5"/>
<rect x="620" y="734" width="78.5" height="32.6" fill="#bdbdbd" stroke="#555" stroke-width="0.5"/>
<line x1="655" y1="664" x2="690" y2="664" stroke="#555" stroke-width="0.8"/>
<line x1="660" y1="670" x2="690" y2="670" stroke="#555" stroke-width="0.8"/>
<line x1="652" y1="682" x2="695" y2="682" stroke="#555" stroke-width="0.8"/>
<line x1="626" y1="740" x2="690" y2="740" stroke="#555" stroke-width="0.8"/>
<line x1="628" y1="748" x2="660" y2="748" stroke="#555" stroke-width="0.8"/>
<line x1="630" y1="756" x2="692" y2="756" stroke="#555" stroke-width="0.8"/>
<line x1="640" y1="762" x2="690" y2="762" stroke="#555" stroke-width="0.8"/>
<circle cx="664" cy="676" r="4" fill="#a5a5a5" stroke="#444" stroke-width="0.8"/>
<circle cx="680" cy="675" r="3" fill="#a5a5a5" stroke="#444" stroke-width="0.8"/>
<circle cx="640" cy="748" r="4.5" fill="#a5a5a5" stroke="#444" stroke-width="0.8"/>
<circle cx="676" cy="748" r="3.5" fill="#a5a5a5" stroke="#444" stroke-width="0.8"/>
<circle cx="688" cy="686" r="2.5" fill="#a5a5a5" stroke="#444" stroke-width="0.8"/>
<circle cx="660" cy="760" r="3" fill="#a5a5a5" stroke="#444" stroke-width="0.8"/>
<path d="M668,659 L672,668 L680,660" fill="none" stroke="#444" stroke-width="0.8"/>
<rect x="524.6" y="658.4" width="57.39999999999998" height="17" rx="4" fill="#717171" stroke="#333" stroke-width="0.7"/>
<rect x="591" y="658.4" width="57.60000000000002" height="17" rx="4" fill="#717171" stroke="#333" stroke-width="0.7"/>
<rect x="565.7" y="750.8" width="16.0" height="16" rx="4" fill="#717171" stroke="#333" stroke-width="0.7"/>
<rect x="591" y="750.8" width="57.60000000000002" height="16" rx="4" fill="#717171" stroke="#333" stroke-width="0.7"/>
<rect x="502" y="658.5" width="12.2" height="31" fill="#e8b800" stroke="#6a5a20" stroke-width="0.6"/>
<line x1="505" y1="660" x2="505" y2="688" stroke="#6a5a20" stroke-width="0.5"/>
<line x1="508" y1="660" x2="508" y2="688" stroke="#6a5a20" stroke-width="0.5"/>
<line x1="511" y1="660" x2="511" y2="688" stroke="#6a5a20" stroke-width="0.5"/>
<circle cx="552" cy="712" r="33" fill="none" stroke="#5a4a10" stroke-width="0.7"/>
<rect x="470" y="733" width="82" height="33.8" fill="#fcc700" stroke="#3a3a3a" stroke-width="0.9"/>
<rect x="474.7" y="735.8" width="16.9" height="28.2" fill="#efefef" stroke="#555" stroke-width="0.7"/>
<path d="M496.3,735.8 L533,735.8 L533,764 L500,764 L496.3,760 Z" fill="#f2f2f2" stroke="#555" stroke-width="0.7"/>
<line x1="508" y1="762" x2="540" y2="745" stroke="#555" stroke-width="0.8"/>
<line x1="475" y1="749" x2="490" y2="749" stroke="#777" stroke-width="0.6"/>
<rect x="552" y="742.3" width="14" height="23.7" fill="#fcc700" stroke="#3a3a3a" stroke-width="0.7"/>
<line x1="482.5" y1="767" x2="482.5" y2="775" stroke="#444" stroke-width="1"/>
<path d="M480,776 Q479.5,784 483,785.2 Q486.5,784.5 486,776.5 Q483,773.5 480,776 Z" fill="#3a3a3a"/>
<rect x="690" y="652" width="5.7" height="33" fill="#999" stroke="#333" stroke-width="0.7"/>
<rect x="690" y="740" width="5.7" height="35" fill="#999" stroke="#333" stroke-width="0.7"/>
<line x1="698.5" y1="658" x2="698.5" y2="767" stroke="#5a4a10" stroke-width="0.9"/>
<rect x="711.5" y="696.5" width="11.7" height="30.8" fill="#f3e2a8" stroke="#c9b070" stroke-width="0.6"/>
<rect x="213.5" y="657.3" width="68.5" height="109.7" fill="#fcc700" stroke="#3a3a3a" stroke-width="1"/>
<rect x="215.5" y="659.3" width="64.5" height="105.7" fill="none" stroke="#8a6a00" stroke-width="0.6"/>
<rect x="217.7" y="662.3" width="13.2" height="30.5" fill="#ececec" stroke="#777" stroke-width="0.5"/>
<rect x="217.7" y="732.3" width="13.2" height="31.4" fill="#ececec" stroke="#777" stroke-width="0.5"/>
<line x1="231" y1="660" x2="231" y2="765" stroke="#6a5a20" stroke-width="0.7"/>
<line x1="279.5" y1="660" x2="279.5" y2="765" stroke="#6a5a20" stroke-width="0.7"/>
<circle cx="237.5" cy="663.9" r="1.8" fill="none" stroke="#333" stroke-width="0.6"/>
<circle cx="237.5" cy="762.9" r="1.8" fill="none" stroke="#333" stroke-width="0.6"/>
<line x1="222" y1="680.4" x2="246" y2="680.4" stroke="#555" stroke-width="0.7"/>
<ellipse cx="238" cy="680.4" rx="3" ry="1.3" fill="#777"/>
<rect x="257" y="734" width="12" height="20" rx="2" fill="none" stroke="#555" stroke-width="0.7"/>
<line x1="248" y1="740" x2="277" y2="740" stroke="#555" stroke-width="0.6"/>
<line x1="248" y1="744" x2="277" y2="744" stroke="#555" stroke-width="0.6"/>
<rect x="260" y="731" width="6" height="3" fill="#777"/>
<path d="M232,652 Q234,646 239,647 Q240,651 236.5,657 Q233,657 232,652 Z" fill="#555"/>
<path d="M232,772 Q234,778 239,777 Q240,773 236.5,767 Q233,767 232,772 Z" fill="#555"/>
<path d="M207,686 Q208,681 213,681 L213,690 Q208,691 207,686 Z" fill="#555"/>
<rect x="244.9" y="652.4" width="14" height="5.7" rx="2.5" fill="#666"/>
<rect x="215" y="694" width="350" height="37" fill="#fcc700" stroke="#3a3a3a" stroke-width="0.9"/>
<rect x="560" y="690.5" width="146" height="43.5" fill="#fcc700" stroke="#3a3a3a" stroke-width="1"/>
<line x1="560" y1="694" x2="560" y2="731" stroke="#fcc700" stroke-width="1.5"/>
<line x1="305.5" y1="694" x2="305.5" y2="731" stroke="#5a4a10" stroke-width="0.8"/>
<line x1="302.5" y1="694" x2="302.5" y2="731" stroke="#5a4a10" stroke-width="0.6"/>
<line x1="400.5" y1="694" x2="400.5" y2="731" stroke="#5a4a10" stroke-width="0.8"/>
<line x1="397.5" y1="694" x2="397.5" y2="731" stroke="#5a4a10" stroke-width="0.6"/>
<line x1="491.6" y1="694" x2="491.6" y2="731" stroke="#5a4a10" stroke-width="0.8"/>
<line x1="488.6" y1="694" x2="488.6" y2="731" stroke="#5a4a10" stroke-width="0.6"/>
<line x1="583.6" y1="694" x2="583.6" y2="731" stroke="#5a4a10" stroke-width="0.8"/>
<line x1="580.6" y1="694" x2="580.6" y2="731" stroke="#5a4a10" stroke-width="0.6"/>
<line x1="215" y1="697.5" x2="700" y2="697.5" stroke="#5a4a10" stroke-width="0.6"/>
<line x1="215" y1="727.5" x2="700" y2="727.5" stroke="#5a4a10" stroke-width="0.6"/>
<circle cx="291.7" cy="713.4" r="5.2" fill="#fcc700" stroke="#6a5010" stroke-width="1.8"/>
<circle cx="291.7" cy="713.2" r="3" fill="none" stroke="#8a6a10" stroke-width="0.5"/>
<circle cx="317.1" cy="713.4" r="5.2" fill="#fcc700" stroke="#6a5010" stroke-width="1.8"/>
<circle cx="317.1" cy="713.2" r="3" fill="none" stroke="#8a6a10" stroke-width="0.5"/>
<circle cx="466.2" cy="713.4" r="5.2" fill="#fcc700" stroke="#6a5010" stroke-width="1.8"/>
<circle cx="466.2" cy="713.2" r="3" fill="none" stroke="#8a6a10" stroke-width="0.5"/>
<rect x="571.3" y="702.8" width="35.7" height="19.8" rx="9.9" fill="#fcc700" stroke="#5a4a10" stroke-width="0.9"/>
<circle cx="614.7" cy="712.5" r="6" fill="#fcc700" stroke="#5a4a10" stroke-width="0.9"/>
<rect x="622.2" y="699" width="17" height="28.3" rx="3" fill="#fcc700" stroke="#4a4a4a" stroke-width="1.1"/>
<rect x="627" y="703" width="8" height="20" fill="#e0b000" stroke="#5a4a10" stroke-width="0.6"/>
<rect x="646.7" y="695.2" width="33.9" height="35.8" fill="#fcc700" stroke="#4a4a4a" stroke-width="1.2"/>
<rect x="652.3" y="700" width="22.7" height="28.2" fill="#e2b200" stroke="#4a4a4a" stroke-width="1"/>
<rect x="690" y="696.2" width="15" height="31" rx="2" fill="#fcc700" stroke="#4a4a4a" stroke-width="1"/>
<rect x="684" y="700" width="6" height="23" fill="#c9c9c9" stroke="#555" stroke-width="0.6"/>
<rect x="185" y="697" width="30" height="36" fill="#fcc700" stroke="#5a4a10" stroke-width="0.6"/>
<rect x="184.3" y="697" width="2.6" height="39" rx="1" fill="#3d3d3d"/>
<rect x="191" y="697" width="2.6" height="39" rx="1" fill="#3d3d3d"/>
<rect x="197.3" y="697" width="2.6" height="39" rx="1" fill="#3d3d3d"/>
<rect x="203.5" y="697" width="2.6" height="39" rx="1" fill="#3d3d3d"/>
<rect x="209.5" y="697" width="2.6" height="39" rx="1" fill="#3d3d3d"/>
<rect x="212.5" y="694" width="3" height="40" fill="#777"/>
<rect x="165" y="697" width="21" height="35.3" fill="#fcc700" stroke="#3a3a3a" stroke-width="0.8"/>
<rect x="161.6" y="699" width="4.5" height="31" fill="#4a4a4a"/>
<rect x="169" y="703" width="13" height="22" fill="none" stroke="#5a4a10" stroke-width="0.7"/>
<line x1="166" y1="711" x2="184" y2="711" stroke="#555" stroke-width="0.8"/>
<line x1="166" y1="716" x2="184" y2="716" stroke="#555" stroke-width="0.8"/>
<rect x="162" y="732" width="24" height="2.5" fill="#8a6a00"/>
<rect x="178" y="732" width="3" height="8" fill="#8a6a00"/>
<path d="M168.2,659.3 L203.6,662.5 L203.6,665.3 L168.2,662.3 Z" fill="#fcc700" stroke="#3a3a3a" stroke-width="0.6"/>
<path d="M168.2,688 L203.6,684.8 L203.6,687.6 L168.2,691 Z" fill="#fcc700" stroke="#3a3a3a" stroke-width="0.6"/>
<rect x="183" y="662" width="3.3" height="26" fill="#fcc700" stroke="#3a3a3a" stroke-width="0.6"/>
<path d="M186.3,664 L203.6,665.3 L203.6,684.8 L186.3,686.5 Z" fill="#fcc700" stroke="#3a3a3a" stroke-width="0.6"/>
<path d="M186.3,664 L203.6,684.8 M203.6,665.3 L186.3,686.5" stroke="#5a4a10" stroke-width="0.6"/>
<circle cx="168.5" cy="660.8" r="2" fill="#fcc700" stroke="#3a3a3a" stroke-width="0.6"/>
<circle cx="168.5" cy="689.5" r="2" fill="#fcc700" stroke="#3a3a3a" stroke-width="0.6"/>
<line x1="551.4" y1="640" x2="551.4" y2="790" stroke="#444" stroke-width="0.6"/>
<rect x="341.7" y="603" width="20.400000000000034" height="20" rx="4" fill="#e4e4e4" stroke="#d0d0d0" stroke-width="0.7"/>
<rect x="345.3" y="583" width="13.599999999999966" height="75.39999999999998" fill="#c6c6c6" stroke="#333" stroke-width="1.2"/>
<line x1="352.1" y1="583" x2="352.1" y2="658.4" stroke="#8a8a8a" stroke-width="0.8"/>
<rect x="341.2" y="562.4" width="21.400000000000034" height="21.200000000000045" rx="4" fill="#3a3a3a" stroke="#222" stroke-width="0.8"/>
<rect x="343.59999999999997" y="564.8" width="16.600000000000033" height="16.400000000000045" rx="2.5" fill="#707070"/>
<rect x="347.8" y="564.8" width="8" height="16.400000000000045" fill="#a8a8a8"/>
<circle cx="351.8" cy="573" r="3.4" fill="#d8d8d8" stroke="#333" stroke-width="0.8"/>
<rect x="353.8" y="804" width="20.69999999999999" height="18.700000000000045" rx="4" fill="#e4e4e4" stroke="#d0d0d0" stroke-width="0.7"/>
<rect x="357.7" y="767" width="12.800000000000011" height="76" fill="#c6c6c6" stroke="#333" stroke-width="1.2"/>
<line x1="364.1" y1="767" x2="364.1" y2="843" stroke="#8a8a8a" stroke-width="0.8"/>
<rect x="353.3" y="843" width="21.69999999999999" height="21.200000000000045" rx="4" fill="#3a3a3a" stroke="#222" stroke-width="0.8"/>
<rect x="355.7" y="845.4" width="16.899999999999988" height="16.400000000000045" rx="2.5" fill="#707070"/>
<rect x="359.4" y="845.4" width="8" height="16.400000000000045" fill="#a8a8a8"/>
<circle cx="363.4" cy="854.2" r="3.4" fill="#d8d8d8" stroke="#333" stroke-width="0.8"/>
<rect x="655.7" y="566.8" width="20.59999999999991" height="20.40000000000009" rx="4" fill="#e4e4e4" stroke="#d0d0d0" stroke-width="0.7"/>
<rect x="655.7" y="596" width="20.59999999999991" height="18" rx="4" fill="#e4e4e4" stroke="#d0d0d0" stroke-width="0.7"/>
<rect x="660.4" y="556" width="12.300000000000068" height="56" fill="#c9c9c9" stroke="#333" stroke-width="1.1"/>
<line x1="666.55" y1="556" x2="666.55" y2="612" stroke="#8a8a8a" stroke-width="0.8"/>
<rect x="658.1" y="611.7" width="15.799999999999955" height="46.299999999999955" fill="#c6c6c6" stroke="#333" stroke-width="1.2"/>
<rect x="655.2" y="536.4" width="21.59999999999991" height="21.600000000000023" rx="4" fill="#3a3a3a" stroke="#222" stroke-width="0.8"/>
<rect x="657.6" y="538.8" width="16.79999999999991" height="16.800000000000022" rx="2.5" fill="#707070"/>
<rect x="662.3" y="538.8" width="8" height="16.800000000000022" fill="#a8a8a8"/>
<circle cx="666.3" cy="546.3" r="3.4" fill="#d8d8d8" stroke="#333" stroke-width="0.8"/>
<rect x="670.7" y="812" width="20.59999999999991" height="18.600000000000023" rx="4" fill="#e4e4e4" stroke="#d0d0d0" stroke-width="0.7"/>
<rect x="670.7" y="839.8" width="20.59999999999991" height="18.5" rx="4" fill="#e4e4e4" stroke="#d0d0d0" stroke-width="0.7"/>
<rect x="676.4" y="816" width="9.800000000000068" height="54" fill="#c9c9c9" stroke="#333" stroke-width="1.1"/>
<line x1="681.3" y1="816" x2="681.3" y2="870" stroke="#8a8a8a" stroke-width="0.8"/>
<rect x="674.5" y="767" width="14.200000000000045" height="51" fill="#c6c6c6" stroke="#333" stroke-width="1.2"/>
<rect x="670.2" y="869" width="21.59999999999991" height="21" rx="4" fill="#3a3a3a" stroke="#222" stroke-width="0.8"/>
<rect x="672.6" y="871.4" width="16.79999999999991" height="16.2" rx="2.5" fill="#707070"/>
<rect x="677" y="871.4" width="8" height="16.2" fill="#a8a8a8"/>
<circle cx="681" cy="879.9" r="3.4" fill="#d8d8d8" stroke="#333" stroke-width="0.8"/>
<line x1="363.4" y1="864" x2="363.4" y2="908" stroke="#555" stroke-width="1"/>
<line x1="680.5" y1="890" x2="680.5" y2="920" stroke="#555" stroke-width="1"/>
<line x1="285" y1="573" x2="346" y2="573" stroke="#555" stroke-width="1"/>
<line x1="310" y1="613.4" x2="352" y2="613.4" stroke="#555" stroke-width="1"/>
<line x1="285.9" y1="573" x2="285.9" y2="596" stroke="#555" stroke-width="1"/>
<path d="M285.90,573.00L288.00,580.20L283.80,580.20Z" fill="#262626"/>
<line x1="297.7" y1="573" x2="297.7" y2="623" stroke="#555" stroke-width="1"/>
<path d="M297.70,573.00L299.80,580.20L295.60,580.20Z" fill="#262626"/>
<line x1="310.9" y1="613.4" x2="310.9" y2="625" stroke="#555" stroke-width="1"/>
<path d="M310.90,613.40L313.00,620.60L308.80,620.60Z" fill="#262626"/>
<text transform="translate(289.2,621.5) rotate(-90)" font-size="10" text-anchor="middle" fill="#333">2520-7013<tspan font-size="6" dy="-3">1)</tspan></text>
<text transform="translate(301.2,635) rotate(-90)" font-size="10" text-anchor="middle" fill="#333">7013</text>
<text transform="translate(314.4,636) rotate(-90)" font-size="10" text-anchor="middle" fill="#333">5012</text>
<line x1="299" y1="854" x2="353" y2="854" stroke="#555" stroke-width="1"/>
<line x1="326" y1="813.5" x2="363" y2="813.5" stroke="#555" stroke-width="1"/>
<line x1="300.7" y1="775" x2="300.7" y2="854" stroke="#555" stroke-width="1"/>
<path d="M300.70,854.00L298.60,846.80L302.80,846.80Z" fill="#262626"/>
<line x1="313.6" y1="775" x2="313.6" y2="854" stroke="#555" stroke-width="1"/>
<path d="M313.60,854.00L311.50,846.80L315.70,846.80Z" fill="#262626"/>
<line x1="326.8" y1="775" x2="326.8" y2="813.5" stroke="#555" stroke-width="1"/>
<path d="M326.80,813.50L324.70,806.30L328.90,806.30Z" fill="#262626"/>
<line x1="376" y1="842" x2="393" y2="842" stroke="#555" stroke-width="1"/>
<line x1="376" y1="865" x2="393" y2="865" stroke="#555" stroke-width="1"/>
<line x1="389.5" y1="830" x2="389.5" y2="842" stroke="#555" stroke-width="1"/>
<path d="M389.50,842.00L387.40,834.80L391.60,834.80Z" fill="#262626"/>
<line x1="389.5" y1="865" x2="389.5" y2="880" stroke="#555" stroke-width="1"/>
<path d="M389.50,865.00L391.60,872.20L387.40,872.20Z" fill="#262626"/>
<rect x="385.5" y="850" width="7.5" height="7.5" fill="none" stroke="#444" stroke-width="0.7"/>
<text x="396" y="857.6" font-size="10" fill="#333">500</text>
<line x1="676" y1="547" x2="807" y2="547" stroke="#555" stroke-width="1"/>
<line x1="666" y1="576.9" x2="781" y2="576.9" stroke="#555" stroke-width="1"/>
<line x1="666" y1="605.5" x2="768" y2="605.5" stroke="#555" stroke-width="1"/>
<line x1="692" y1="657.9" x2="754" y2="657.9" stroke="#555" stroke-width="1"/>
<line x1="700" y1="668.7" x2="741" y2="668.7" stroke="#555" stroke-width="1"/>
<line x1="700" y1="759.7" x2="741" y2="759.7" stroke="#555" stroke-width="1"/>
<line x1="692" y1="768" x2="754" y2="768" stroke="#555" stroke-width="1"/>
<line x1="681" y1="820.7" x2="768" y2="820.7" stroke="#555" stroke-width="1"/>
<line x1="681" y1="850.6" x2="781" y2="850.6" stroke="#555" stroke-width="1"/>
<line x1="691" y1="879.9" x2="807" y2="879.9" stroke="#555" stroke-width="1"/>
<line x1="738" y1="668.7" x2="738" y2="759.7" stroke="#555" stroke-width="1"/><path d="M738.00,668.70L740.10,675.90L735.90,675.90Z" fill="#262626"/><path d="M738.00,759.70L735.90,752.50L740.10,752.50Z" fill="#262626"/><rect x="734" y="707.90" width="8" height="11.00" fill="#fff"/><text transform="translate(741.6,713.4) rotate(-90)" font-size="10" text-anchor="middle" fill="#333">C</text>
<line x1="751" y1="657.9" x2="751" y2="768" stroke="#555" stroke-width="1"/><path d="M751.00,657.90L753.10,665.10L748.90,665.10Z" fill="#262626"/><path d="M751.00,768.00L748.90,760.80L753.10,760.80Z" fill="#262626"/><rect x="747" y="707.90" width="8" height="11.00" fill="#fff"/><text transform="translate(754.6,713.4) rotate(-90)" font-size="10" text-anchor="middle" fill="#333">B</text>
<line x1="764.2" y1="605.5" x2="764.2" y2="820.7" stroke="#555" stroke-width="1"/><path d="M764.20,605.50L766.30,612.70L762.10,612.70Z" fill="#262626"/><path d="M764.20,820.70L762.10,813.50L766.30,813.50Z" fill="#262626"/><rect x="760.2" y="697.38" width="8" height="27.24" fill="#fff"/><text transform="translate(767.8000000000001,711) rotate(-90)" font-size="10" text-anchor="middle" fill="#333">5386</text>
<line x1="777.8" y1="576.9" x2="777.8" y2="850.6" stroke="#555" stroke-width="1"/><path d="M777.80,576.90L779.90,584.10L775.70,584.10Z" fill="#262626"/><path d="M777.80,850.60L775.70,843.40L779.90,843.40Z" fill="#262626"/><rect x="773.8" y="697.38" width="8" height="27.24" fill="#fff"/><text transform="translate(781.4,711) rotate(-90)" font-size="10" text-anchor="middle" fill="#333">6850</text>
<line x1="790.4" y1="547" x2="790.4" y2="879.9" stroke="#555" stroke-width="1"/><path d="M790.40,547.00L792.50,554.20L788.30,554.20Z" fill="#262626"/><path d="M790.40,879.90L788.30,872.70L792.50,872.70Z" fill="#262626"/><rect x="786.4" y="697.38" width="8" height="27.24" fill="#fff"/><text transform="translate(794.0,711) rotate(-90)" font-size="10" text-anchor="middle" fill="#333">8315</text>
<line x1="803.4" y1="547" x2="803.4" y2="879.9" stroke="#555" stroke-width="1"/><path d="M803.40,547.00L805.50,554.20L801.30,554.20Z" fill="#262626"/><path d="M803.40,879.90L801.30,872.70L805.50,872.70Z" fill="#262626"/><rect x="799.4" y="683.69" width="8" height="59.41" fill="#fff"/><text transform="translate(807.0,713.4) rotate(-90)" font-size="10" text-anchor="middle" fill="#333">2456-8315<tspan font-size="6" dy="-3">1)</tspan></text>
<line x1="364.5" y1="904" x2="551.4" y2="904" stroke="#555" stroke-width="1"/><path d="M364.50,904.00L371.70,901.90L371.70,906.10Z" fill="#262626"/><path d="M551.40,904.00L544.20,906.10L544.20,901.90Z" fill="#262626"/><rect x="443.58" y="900" width="27.24" height="8" fill="#fff"/><text x="457.2" y="907.6" font-size="10" text-anchor="middle" fill="#333">4680</text>
<line x1="551.4" y1="904" x2="680.5" y2="904" stroke="#555" stroke-width="1"/><path d="M551.40,904.00L558.60,901.90L558.60,906.10Z" fill="#262626"/><path d="M680.50,904.00L673.30,906.10L673.30,901.90Z" fill="#262626"/><rect x="601.58" y="900" width="27.24" height="8" fill="#fff"/><text x="615.2" y="907.6" font-size="10" text-anchor="middle" fill="#333">3235</text>
<line x1="364.5" y1="917.4" x2="680.5" y2="917.4" stroke="#555" stroke-width="1"/><path d="M364.50,917.40L371.70,915.30L371.70,919.50Z" fill="#262626"/><path d="M680.50,917.40L673.30,919.50L673.30,915.30Z" fill="#262626"/><rect x="505.78" y="913.4" width="27.24" height="8" fill="#fff"/><text x="519.4" y="921.0" font-size="10" text-anchor="middle" fill="#333">7915</text>
<text x="791.5" y="920.5" font-size="7" text-anchor="middle" fill="#333" textLength="29" lengthAdjust="spacingAndGlyphs">S3260.01</text>
<path d="M210.3,623.7 Q150,670 82.4,767.3" fill="none" stroke="#333" stroke-width="0.8"/>
<path d="M238.5,638.8 Q150,690 87,771.6" fill="none" stroke="#333" stroke-width="0.8" stroke-dasharray="4,2.5"/>
<path d="M163.3,696.4 Q105,750 82.7,814" fill="none" stroke="#333" stroke-width="0.8"/>
<path d="M167.5,698.5 Q118,748 96.5,806.6" fill="none" stroke="#333" stroke-width="0.8" stroke-dasharray="4,2.5"/>
<path d="M159,711 Q130,740 111.3,774.8" fill="none" stroke="#333" stroke-width="0.8"/>
<path d="M161,713.3 Q140,740 126.2,766.3" fill="none" stroke="#333" stroke-width="0.8" stroke-dasharray="4,2.5"/>
<path d="M342.6,647.3 Q245,700 181.3,778" fill="none" stroke="#333" stroke-width="0.8"/>
<path d="M256,706 Q225,735 195,768.4" fill="none" stroke="#333" stroke-width="0.8" stroke-dasharray="4,2.5"/>
<path d="M441.4,778.2 Q530,752 634.4,799" fill="none" stroke="#333" stroke-width="0.8"/>
<path d="M443,772 Q520,766 599,804.5" fill="none" stroke="#333" stroke-width="0.8" stroke-dasharray="4,2.5"/>
<path d="M701.7,643.4 Q724,675 720,712" fill="none" stroke="#333" stroke-width="0.8"/>
<path d="M715.5,653.3 Q730,690 724,733" fill="none" stroke="#333" stroke-width="0.8"/>
<line x1="344" y1="646.5" x2="364" y2="638" stroke="#333" stroke-width="0.7" stroke-dasharray="3,2"/>
<line x1="200.4" y1="629.7" x2="168.8" y2="587" stroke="#333" stroke-width="0.7"/>
<path d="M200.40,629.70L194.25,624.92L197.63,622.42Z" fill="#222"/>
<text transform="translate(185.51,599.16) rotate(53)" y="3.6" font-size="10" text-anchor="middle" fill="#333" textLength="43" lengthAdjust="spacingAndGlyphs">R = 12490</text>
<line x1="185.5" y1="641.3" x2="146" y2="600" stroke="#333" stroke-width="0.7"/>
<path d="M185.50,641.30L178.80,637.33L181.83,634.43Z" fill="#222"/>
<text transform="translate(166.41,612.37) rotate(47)" y="3.6" font-size="10" text-anchor="middle" fill="#333" textLength="44" lengthAdjust="spacingAndGlyphs">R<tspan font-size="6" dy="2">1</tspan><tspan dy="-2"> </tspan>= 11940</text>
<line x1="127.2" y1="767.4" x2="178.1" y2="793.9" stroke="#333" stroke-width="0.7"/>
<path d="M127.20,767.40L134.82,769.00L132.88,772.73Z" fill="#222"/>
<text transform="translate(159.17,777.06) rotate(29)" y="3.6" font-size="10" text-anchor="middle" fill="#333" textLength="44" lengthAdjust="spacingAndGlyphs">R<tspan font-size="6" dy="2">1</tspan><tspan dy="-2"> </tspan>= 10250</text>
<line x1="112.4" y1="774.8" x2="161.2" y2="803.4" stroke="#333" stroke-width="0.7"/>
<path d="M112.40,774.80L119.93,776.78L117.81,780.40Z" fill="#222"/>
<text transform="translate(143.97,786.11) rotate(30)" y="3.6" font-size="10" text-anchor="middle" fill="#333" textLength="43" lengthAdjust="spacingAndGlyphs">R = 10490</text>
<line x1="99.7" y1="801.3" x2="152.7" y2="824.6" stroke="#333" stroke-width="0.7"/>
<path d="M99.70,801.30L107.41,802.40L105.72,806.24Z" fill="#222"/>
<text transform="translate(133.03,809.18) rotate(24)" y="3.6" font-size="10" text-anchor="middle" fill="#333" textLength="44" lengthAdjust="spacingAndGlyphs">R<tspan font-size="6" dy="2">1</tspan><tspan dy="-2"> </tspan>= 11020</text>
<line x1="84.8" y1="813" x2="134.7" y2="836.3" stroke="#333" stroke-width="0.7"/>
<path d="M84.80,813.00L92.48,814.27L90.71,818.08Z" fill="#222"/>
<text transform="translate(116.57,820.99) rotate(25)" y="3.6" font-size="10" text-anchor="middle" fill="#333" textLength="43" lengthAdjust="spacingAndGlyphs">R = 11760</text>
<line x1="196.1" y1="770" x2="239.6" y2="798.1" stroke="#333" stroke-width="0.7"/>
<path d="M196.10,770.00L203.54,772.31L201.26,775.83Z" fill="#222"/>
<text transform="translate(225.09,781.35) rotate(33)" y="3.6" font-size="10" text-anchor="middle" fill="#333" textLength="38" lengthAdjust="spacingAndGlyphs">R<tspan font-size="6" dy="2">1</tspan><tspan dy="-2"> </tspan>= 8770</text>
<line x1="182.4" y1="779" x2="227.9" y2="809.8" stroke="#333" stroke-width="0.7"/>
<path d="M182.40,779.00L189.79,781.47L187.43,784.94Z" fill="#222"/>
<text transform="translate(212.46,791.86) rotate(34)" y="3.6" font-size="10" text-anchor="middle" fill="#333" textLength="43" lengthAdjust="spacingAndGlyphs">R = 10300</text>
<line x1="592.1" y1="802" x2="559.4" y2="847.4" stroke="#333" stroke-width="0.7"/>
<path d="M592.10,802.00L589.42,809.31L586.01,806.86Z" fill="#222"/>
<text transform="translate(568.50,824.16) rotate(-55)" y="3.6" font-size="10" text-anchor="middle" fill="#333" textLength="42" lengthAdjust="spacingAndGlyphs">R<tspan font-size="6" dy="2">1</tspan><tspan dy="-2"> </tspan>= 5000</text>
<line x1="621.2" y1="794.4" x2="593" y2="843.4" stroke="#333" stroke-width="0.7"/>
<path d="M621.20,794.40L619.28,801.95L615.64,799.85Z" fill="#222"/>
<text transform="translate(598.40,821.58) rotate(-59)" y="3.6" font-size="10" text-anchor="middle" fill="#333" textLength="39" lengthAdjust="spacingAndGlyphs">R = 6350</text>
<line x1="701.7" y1="643.4" x2="747.3" y2="624" stroke="#333" stroke-width="0.7"/>
<path d="M701.70,643.40L707.78,638.53L709.42,642.40Z" fill="#222"/>
<text transform="translate(726.67,626.04) rotate(-22)" y="3.6" font-size="10" text-anchor="middle" fill="#333" textLength="37" lengthAdjust="spacingAndGlyphs">R = 4100</text>
<line x1="715.5" y1="653.3" x2="760.8" y2="636.3" stroke="#333" stroke-width="0.7"/>
<path d="M715.50,653.30L721.78,648.70L723.26,652.63Z" fill="#222"/>
<text transform="translate(739.88,637.53) rotate(-22)" y="3.6" font-size="10" text-anchor="middle" fill="#333" textLength="37" lengthAdjust="spacingAndGlyphs">R = 4310</text>
<rect x="65.5" y="930.6" width="746.5" height="22.6" fill="#d6d6d6"/>
<text x="69" y="939.6" font-size="7.4" fill="#222" textLength="6" lengthAdjust="spacingAndGlyphs">R<tspan font-size="4.5" dy="1.5">1</tspan></text>
<text x="76" y="939.6" font-size="7.4" fill="#222" textLength="50" lengthAdjust="spacingAndGlyphs">= Allradlenkung</text>
<text x="127.5" y="939.6" font-size="7.4" fill="#707070" textLength="374" lengthAdjust="spacingAndGlyphs"> · All-wheel steering · Direction toutes roues · Tutti gli assi sterzanti · Dirección en todos los ejes · Поворот всеми колесами</text>
<text x="69" y="948.2" font-size="4.8" fill="#222">1)</text>
<text x="74.5" y="950.4" font-size="7.4" fill="#222" textLength="57" lengthAdjust="spacingAndGlyphs">nur mit VarioBase®</text>
<text x="132" y="950.4" font-size="7.4" fill="#707070" textLength="366" lengthAdjust="spacingAndGlyphs"> · only with VarioBase® · seulement avec VarioBase® · solo con VarioBase® · sólo con VarioBase® · только с VarioBase®</text>
<rect x="65.4" y="974.4" width="3.7" height="19" fill="#f9c400"/>
<text x="76.2" y="993.3" font-size="17.5" font-weight="bold" fill="#1a1a1a" textLength="44" lengthAdjust="spacingAndGlyphs">Maße</text>
<text x="122.5" y="993.3" font-size="18" fill="#808080" textLength="7.5" lengthAdjust="spacingAndGlyphs">/</text>
<text x="132.7" y="993.3" font-size="17.5" font-weight="bold" fill="#7c7c7c" textLength="94.5" lengthAdjust="spacingAndGlyphs">Dimensions</text>
<text x="229.5" y="993.3" font-size="11.6" font-weight="bold" fill="#6e6e6e" textLength="351" lengthAdjust="spacingAndGlyphs">/Encombrement/Dimensioni/Dimensiones/Габариты крана mm</text>
<rect x="65.4" y="1028" width="746.6" height="13.6" fill="#d4d4d4"/>
<rect x="65.4" y="1055.7" width="746.6" height="14" fill="#d4d4d4"/>
<rect x="65.4" y="1070.6" width="746.6" height="14" fill="#d4d4d4"/>
<line x1="65.4" y1="999.6" x2="812" y2="999.6" stroke="#8a8a8a" stroke-width="1"/>
<line x1="210.50" y1="999.6" x2="210.50" y2="1069.8" stroke="#8a8a8a" stroke-width="0.9"/>
<line x1="256.77" y1="999.6" x2="256.77" y2="1069.8" stroke="#8a8a8a" stroke-width="0.9"/>
<line x1="303.04" y1="999.6" x2="303.04" y2="1069.8" stroke="#8a8a8a" stroke-width="0.9"/>
<line x1="349.31" y1="999.6" x2="349.31" y2="1069.8" stroke="#8a8a8a" stroke-width="0.9"/>
<line x1="395.58" y1="999.6" x2="395.58" y2="1069.8" stroke="#8a8a8a" stroke-width="0.9"/>
<line x1="441.85" y1="999.6" x2="441.85" y2="1069.8" stroke="#8a8a8a" stroke-width="0.9"/>
<line x1="488.12" y1="999.6" x2="488.12" y2="1069.8" stroke="#8a8a8a" stroke-width="0.9"/>
<line x1="534.38" y1="999.6" x2="534.38" y2="1069.8" stroke="#8a8a8a" stroke-width="0.9"/>
<line x1="580.65" y1="999.6" x2="580.65" y2="1069.8" stroke="#8a8a8a" stroke-width="0.9"/>
<line x1="626.92" y1="999.6" x2="626.92" y2="1069.8" stroke="#8a8a8a" stroke-width="0.9"/>
<line x1="673.19" y1="999.6" x2="673.19" y2="1069.8" stroke="#8a8a8a" stroke-width="0.9"/>
<line x1="719.46" y1="999.6" x2="719.46" y2="1069.8" stroke="#8a8a8a" stroke-width="0.9"/>
<line x1="765.73" y1="999.6" x2="765.73" y2="1069.8" stroke="#8a8a8a" stroke-width="0.9"/>
<text x="233.63" y="1010.6" font-size="10.2" font-weight="bold" text-anchor="middle" fill="#222" textLength="6.3" lengthAdjust="spacingAndGlyphs">A</text>
<text x="279.90" y="1010.6" font-size="10.2" font-weight="bold" text-anchor="middle" fill="#222" textLength="6.3" lengthAdjust="spacingAndGlyphs">A</text>
<text x="326.17" y="1010.6" font-size="10.2" font-weight="bold" text-anchor="middle" fill="#222" textLength="6.3" lengthAdjust="spacingAndGlyphs">B</text>
<text x="372.44" y="1010.6" font-size="10.2" font-weight="bold" text-anchor="middle" fill="#222" textLength="6.3" lengthAdjust="spacingAndGlyphs">C</text>
<text x="418.71" y="1010.6" font-size="10.2" font-weight="bold" text-anchor="middle" fill="#222" textLength="6.3" lengthAdjust="spacingAndGlyphs">D</text>
<text x="464.98" y="1010.6" font-size="10.2" font-weight="bold" text-anchor="middle" fill="#222" textLength="6.3" lengthAdjust="spacingAndGlyphs">E</text>
<text x="511.25" y="1010.6" font-size="10.2" font-weight="bold" text-anchor="middle" fill="#222" textLength="6.3" lengthAdjust="spacingAndGlyphs">F</text>
<text x="557.52" y="1010.6" font-size="10.2" font-weight="bold" text-anchor="middle" fill="#222" textLength="6.3" lengthAdjust="spacingAndGlyphs">G</text>
<text x="603.79" y="1010.6" font-size="10.2" font-weight="bold" text-anchor="middle" fill="#222" textLength="6.3" lengthAdjust="spacingAndGlyphs">H</text>
<text x="650.06" y="1010.6" font-size="10.2" font-weight="bold" text-anchor="middle" fill="#222" textLength="2.6" lengthAdjust="spacingAndGlyphs">I</text>
<text x="696.33" y="1010.6" font-size="10.2" font-weight="bold" text-anchor="middle" fill="#222" textLength="6.3" lengthAdjust="spacingAndGlyphs">K</text>
<text x="742.60" y="1010.6" font-size="10.2" font-weight="bold" text-anchor="middle" fill="#222" textLength="6.3" lengthAdjust="spacingAndGlyphs">L</text>
<text x="788.87" y="1010.6" font-size="10.2" font-weight="bold" text-anchor="middle" fill="#222" textLength="8.0" lengthAdjust="spacingAndGlyphs">M</text>
<text x="279.90" y="1024.5" font-size="11" font-weight="bold" text-anchor="middle" fill="#222" textLength="40" lengthAdjust="spacingAndGlyphs">125 mm*</text>
<circle cx="138" cy="1013" r="10.3" fill="#2a2a2a"/>
<circle cx="138" cy="1013" r="7.3" fill="#fff"/>
<circle cx="138" cy="1013" r="5.8" fill="#2a2a2a"/>
<circle cx="138" cy="1013" r="2.8" fill="#fff"/>
<text x="137.5" y="1038.9" font-size="11" text-anchor="middle" fill="#333" textLength="108" lengthAdjust="spacingAndGlyphs">385/95 R 25 (14.00 R 25)</text>
<text x="233.63" y="1038.9" font-size="11" text-anchor="middle" fill="#3a3a3a" textLength="21.5" lengthAdjust="spacingAndGlyphs">3950</text>
<text x="279.90" y="1038.9" font-size="11" text-anchor="middle" fill="#3a3a3a" textLength="21.5" lengthAdjust="spacingAndGlyphs">3825</text>
<text x="326.17" y="1038.9" font-size="11" text-anchor="middle" fill="#3a3a3a" textLength="21.5" lengthAdjust="spacingAndGlyphs">2750</text>
<text x="372.44" y="1038.9" font-size="11" text-anchor="middle" fill="#3a3a3a" textLength="21.5" lengthAdjust="spacingAndGlyphs">2360</text>
<text x="418.71" y="1038.9" font-size="11" text-anchor="middle" fill="#3a3a3a" textLength="21.5" lengthAdjust="spacingAndGlyphs">2000</text>
<text x="464.98" y="1038.9" font-size="11" text-anchor="middle" fill="#3a3a3a" textLength="21.5" lengthAdjust="spacingAndGlyphs">3710</text>
<text x="511.25" y="1038.9" font-size="11" text-anchor="middle" fill="#3a3a3a" textLength="16.5" lengthAdjust="spacingAndGlyphs">13°</text>
<text x="557.52" y="1038.9" font-size="11" text-anchor="middle" fill="#3a3a3a" textLength="16.5" lengthAdjust="spacingAndGlyphs">21°</text>
<text x="603.79" y="1038.9" font-size="11" text-anchor="middle" fill="#3a3a3a" textLength="16.5" lengthAdjust="spacingAndGlyphs">15°</text>
<text x="650.06" y="1038.9" font-size="11" text-anchor="middle" fill="#3a3a3a" textLength="16.5" lengthAdjust="spacingAndGlyphs">11°</text>
<text x="696.33" y="1038.9" font-size="11" text-anchor="middle" fill="#3a3a3a" textLength="16.5" lengthAdjust="spacingAndGlyphs">13°</text>
<text x="742.60" y="1038.9" font-size="11" text-anchor="middle" fill="#3a3a3a" textLength="16.5" lengthAdjust="spacingAndGlyphs">20°</text>
<text x="788.87" y="1038.9" font-size="11" text-anchor="middle" fill="#3a3a3a" textLength="17.5" lengthAdjust="spacingAndGlyphs">335</text>
<text x="137.5" y="1052.6" font-size="11" text-anchor="middle" fill="#333" textLength="108" lengthAdjust="spacingAndGlyphs">445/95 R 25 (16.00 R 25)</text>
<text x="233.63" y="1052.6" font-size="11" text-anchor="middle" fill="#3a3a3a" textLength="21.5" lengthAdjust="spacingAndGlyphs">4000</text>
<text x="279.90" y="1052.6" font-size="11" text-anchor="middle" fill="#3a3a3a" textLength="21.5" lengthAdjust="spacingAndGlyphs">3875</text>
<text x="326.17" y="1052.6" font-size="11" text-anchor="middle" fill="#3a3a3a" textLength="21.5" lengthAdjust="spacingAndGlyphs">2750</text>
<text x="372.44" y="1052.6" font-size="11" text-anchor="middle" fill="#3a3a3a" textLength="21.5" lengthAdjust="spacingAndGlyphs">2300</text>
<text x="418.71" y="1052.6" font-size="11" text-anchor="middle" fill="#3a3a3a" textLength="21.5" lengthAdjust="spacingAndGlyphs">2050</text>
<text x="464.98" y="1052.6" font-size="11" text-anchor="middle" fill="#3a3a3a" textLength="21.5" lengthAdjust="spacingAndGlyphs">3760</text>
<text x="511.25" y="1052.6" font-size="11" text-anchor="middle" fill="#3a3a3a" textLength="16.5" lengthAdjust="spacingAndGlyphs">14°</text>
<text x="557.52" y="1052.6" font-size="11" text-anchor="middle" fill="#3a3a3a" textLength="16.5" lengthAdjust="spacingAndGlyphs">23°</text>
<text x="603.79" y="1052.6" font-size="11" text-anchor="middle" fill="#3a3a3a" textLength="16.5" lengthAdjust="spacingAndGlyphs">17°</text>
<text x="650.06" y="1052.6" font-size="11" text-anchor="middle" fill="#3a3a3a" textLength="16.5" lengthAdjust="spacingAndGlyphs">12°</text>
<text x="696.33" y="1052.6" font-size="11" text-anchor="middle" fill="#3a3a3a" textLength="16.5" lengthAdjust="spacingAndGlyphs">15°</text>
<text x="742.60" y="1052.6" font-size="11" text-anchor="middle" fill="#3a3a3a" textLength="16.5" lengthAdjust="spacingAndGlyphs">21°</text>
<text x="788.87" y="1052.6" font-size="11" text-anchor="middle" fill="#3a3a3a" textLength="17.5" lengthAdjust="spacingAndGlyphs">385</text>
<text x="137.5" y="1066.5" font-size="11" text-anchor="middle" fill="#333" textLength="108" lengthAdjust="spacingAndGlyphs">525/80 R 25 (20.5&#160;&#160;&#160;R 25)</text>
<text x="233.63" y="1066.5" font-size="11" text-anchor="middle" fill="#3a3a3a" textLength="21.5" lengthAdjust="spacingAndGlyphs">4000</text>
<text x="279.90" y="1066.5" font-size="11" text-anchor="middle" fill="#3a3a3a" textLength="21.5" lengthAdjust="spacingAndGlyphs">3875</text>
<text x="326.17" y="1066.5" font-size="11" text-anchor="middle" fill="#3a3a3a" textLength="21.5" lengthAdjust="spacingAndGlyphs">2850</text>
<text x="372.44" y="1066.5" font-size="11" text-anchor="middle" fill="#3a3a3a" textLength="21.5" lengthAdjust="spacingAndGlyphs">2320</text>
<text x="418.71" y="1066.5" font-size="11" text-anchor="middle" fill="#3a3a3a" textLength="21.5" lengthAdjust="spacingAndGlyphs">2050</text>
<text x="464.98" y="1066.5" font-size="11" text-anchor="middle" fill="#3a3a3a" textLength="21.5" lengthAdjust="spacingAndGlyphs">3760</text>
<text x="511.25" y="1066.5" font-size="11" text-anchor="middle" fill="#3a3a3a" textLength="16.5" lengthAdjust="spacingAndGlyphs">14°</text>
<text x="557.52" y="1066.5" font-size="11" text-anchor="middle" fill="#3a3a3a" textLength="16.5" lengthAdjust="spacingAndGlyphs">23°</text>
<text x="603.79" y="1066.5" font-size="11" text-anchor="middle" fill="#3a3a3a" textLength="16.5" lengthAdjust="spacingAndGlyphs">17°</text>
<text x="650.06" y="1066.5" font-size="11" text-anchor="middle" fill="#3a3a3a" textLength="16.5" lengthAdjust="spacingAndGlyphs">12°</text>
<text x="696.33" y="1066.5" font-size="11" text-anchor="middle" fill="#3a3a3a" textLength="16.5" lengthAdjust="spacingAndGlyphs">15°</text>
<text x="742.60" y="1066.5" font-size="11" text-anchor="middle" fill="#3a3a3a" textLength="16.5" lengthAdjust="spacingAndGlyphs">21°</text>
<text x="788.87" y="1066.5" font-size="11" text-anchor="middle" fill="#3a3a3a" textLength="17.5" lengthAdjust="spacingAndGlyphs">385</text>
<text x="69" y="1080.6" font-size="7.6" fill="#222" textLength="39" lengthAdjust="spacingAndGlyphs">* abgesenkt</text>
<text x="110" y="1080.6" font-size="7.6" fill="#7a7a7a" textLength="208" lengthAdjust="spacingAndGlyphs"> · lowered · abaissé · abbassato · suspensión abajo · шасси осажено</text>
<rect x="0" y="1106.4" width="849" height="4.2" fill="#f9c400"/>
<text x="738" y="1150.8" font-size="8.2" fill="#4a4a4a" textLength="49" lengthAdjust="spacingAndGlyphs">LTM 1110-5.<tspan font-size="6">1</tspan></text>
<text x="806" y="1150.8" font-size="11" fill="#555">3</text>
<rect x="15.3" y="1160.9" width="190.3" height="23.4" fill="#a9a9a9"/>
<g fill="none" stroke="#1f82f2" stroke-width="2.1" stroke-linecap="round"><path d="M23.5,1167.2 L33.5,1166.4"/><path d="M18.5,1172.6 L36,1171.6"/><path d="M28.5,1165 Q28,1174 17,1181.5"/><path d="M28,1173.5 Q31,1177 36.5,1181"/><path d="M41.5,1166 L43,1167.6"/><path d="M40,1170.6 L41.8,1172.2"/><path d="M38.5,1181 L42.5,1174.5"/><path d="M46,1166.8 L55,1166.3"/><path d="M44.5,1170.2 L57,1169.6"/><path d="M46,1173.4 L55,1173"/><path d="M44.5,1176.8 L57,1176.2"/><path d="M51.5,1163.8 L49.3,1183"/><path d="M68.5,1164 L67,1182 L64.5,1180"/><path d="M63.8,1172 L60.8,1178.5"/><path d="M71,1171.5 L74,1176.5"/></g>
<text x="73.8" y="1179" style="font-family:'Liberation Serif',serif" font-size="19.5" font-style="italic" font-weight="bold" fill="#1f82f2" textLength="130.5" lengthAdjust="spacingAndGlyphs">yu at scaletoy.cn</text>
</svg></body></html>
